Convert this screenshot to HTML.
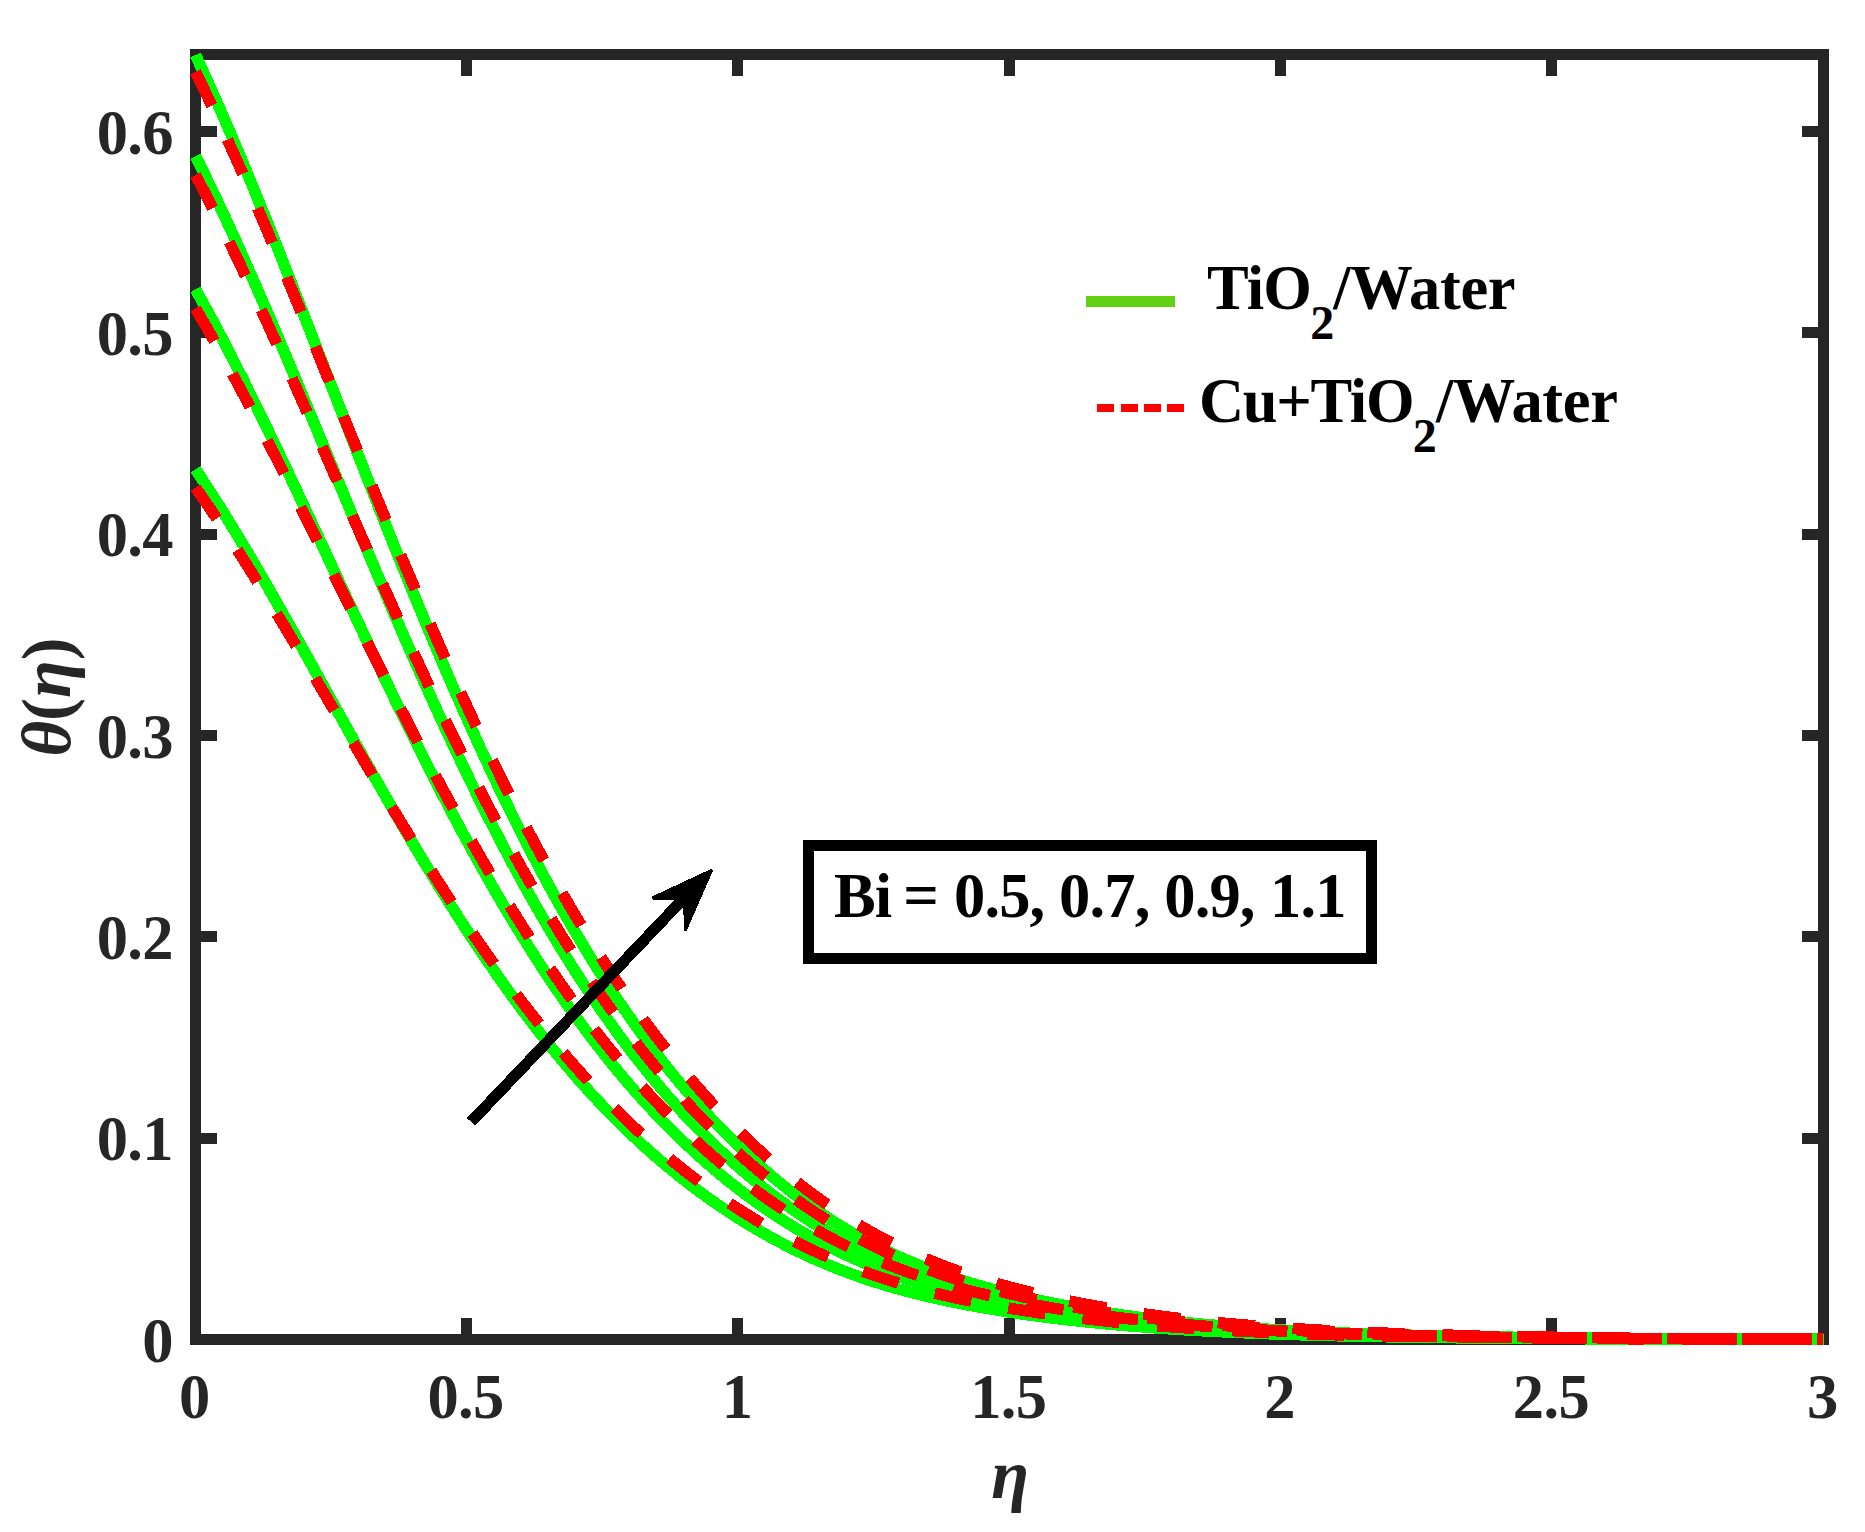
<!DOCTYPE html>
<html lang="en"><head><meta charset="utf-8"><title>Temperature profile</title>
<style>
html,body{margin:0;padding:0;background:#fff;}
svg{display:block}
text{font-family:"Liberation Serif",serif;font-weight:bold;}
.tk{font-size:62.5px;fill:#262626;letter-spacing:-0.6px;}
.lg{font-size:62.5px;fill:#000;letter-spacing:-0.85px;}
.lb{font-size:68.75px;fill:#262626;}
</style></head><body>
<svg width="1865" height="1532" viewBox="0 0 1865 1532">
<rect width="1865" height="1532" fill="#fff"/>
<defs><clipPath id="cp"><rect x="190" y="49" width="1634" height="1296"/></clipPath></defs>

<g fill="#262626">
<rect x="190" y="49" width="1639" height="11"/>
<rect x="190" y="1334" width="1639" height="11"/>
<rect x="190" y="49" width="11" height="1296"/>
<rect x="1818" y="49" width="11" height="1296"/>
<rect x="461" y="60" width="11" height="16"/>
<rect x="461" y="1318" width="11" height="16"/>
<rect x="732" y="60" width="11" height="16"/>
<rect x="732" y="1318" width="11" height="16"/>
<rect x="1004" y="60" width="11" height="16"/>
<rect x="1004" y="1318" width="11" height="16"/>
<rect x="1275" y="60" width="11" height="16"/>
<rect x="1275" y="1318" width="11" height="16"/>
<rect x="1546" y="60" width="11" height="16"/>
<rect x="1546" y="1318" width="11" height="16"/>
<rect x="201" y="1133" width="16" height="11"/>
<rect x="1802" y="1133" width="16" height="11"/>
<rect x="201" y="931" width="16" height="11"/>
<rect x="1802" y="931" width="16" height="11"/>
<rect x="201" y="730" width="16" height="11"/>
<rect x="1802" y="730" width="16" height="11"/>
<rect x="201" y="529" width="16" height="11"/>
<rect x="1802" y="529" width="16" height="11"/>
<rect x="201" y="327" width="16" height="11"/>
<rect x="1802" y="327" width="16" height="11"/>
<rect x="201" y="126" width="16" height="11"/>
<rect x="1802" y="126" width="16" height="11"/>
</g>
<g clip-path="url(#cp)" fill="none" stroke-width="11.5" shape-rendering="crispEdges">
<path d="M195.50,55.01 L198.21,60.82 L200.93,66.68 L203.64,72.59 L206.35,78.54 L209.07,84.53 L211.78,90.57 L214.49,96.66 L217.21,102.78 L219.92,108.95 L222.63,115.16 L225.35,121.41 L228.06,127.70 L230.77,134.03 L233.49,140.39 L236.20,146.79 L238.91,153.22 L241.63,159.69 L244.34,166.19 L247.05,172.72 L249.77,179.28 L252.48,185.87 L255.19,192.49 L257.91,199.14 L260.62,205.81 L263.33,212.51 L266.05,219.23 L268.76,225.98 L271.47,232.75 L274.19,239.54 L276.90,246.35 L279.61,253.18 L282.33,260.03 L285.04,266.89 L287.75,273.78 L290.47,280.67 L293.18,287.58 L295.89,294.51 L298.61,301.44 L301.32,308.39 L304.03,315.35 L306.75,322.31 L309.46,329.28 L312.17,336.26 L314.89,343.25 L317.60,350.24 L320.31,357.24 L323.03,364.24 L325.74,371.24 L328.45,378.24 L331.17,385.24 L333.88,392.24 L336.59,399.24 L339.31,406.24 L342.02,413.24 L344.73,420.23 L347.45,427.21 L350.16,434.19 L352.87,441.17 L355.59,448.13 L358.30,455.09 L361.01,462.04 L363.73,468.97 L366.44,475.90 L369.15,482.81 L371.87,489.72 L374.58,496.61 L377.29,503.48 L380.01,510.34 L382.72,517.19 L385.43,524.01 L388.15,530.83 L390.86,537.62 L393.57,544.40 L396.29,551.16 L399.00,557.89 L401.71,564.61 L404.43,571.31 L407.14,577.98 L409.85,584.64 L412.57,591.27 L415.28,597.87 L417.99,604.46 L420.71,611.02 L423.42,617.55 L426.13,624.06 L428.85,630.54 L431.56,637.00 L434.27,643.43 L436.99,649.83 L439.70,656.21 L442.41,662.55 L445.13,668.87 L447.84,675.16 L450.55,681.41 L453.27,687.64 L455.98,693.84 L458.69,700.01 L461.41,706.14 L464.12,712.25 L466.83,718.32 L469.55,724.36 L472.26,730.37 L474.97,736.34 L477.69,742.28 L480.40,748.19 L483.11,754.06 L485.83,759.90 L488.54,765.71 L491.25,771.48 L493.97,777.21 L496.68,782.91 L499.39,788.58 L502.11,794.21 L504.82,799.80 L507.53,805.36 L510.25,810.89 L512.96,816.37 L515.67,821.82 L518.39,827.23 L521.10,832.61 L523.81,837.95 L526.53,843.25 L529.24,848.52 L531.95,853.75 L534.67,858.94 L537.38,864.10 L540.09,869.21 L542.81,874.29 L545.52,879.33 L548.23,884.34 L550.95,889.31 L553.66,894.23 L556.37,899.13 L559.09,903.98 L561.80,908.80 L564.51,913.58 L567.23,918.32 L569.94,923.02 L572.65,927.69 L575.37,932.31 L578.08,936.90 L580.79,941.46 L583.51,945.97 L586.22,950.45 L588.93,954.89 L591.65,959.30 L594.36,963.66 L597.07,967.99 L599.79,972.29 L602.50,976.54 L605.21,980.76 L607.93,984.94 L610.64,989.09 L613.35,993.20 L616.07,997.27 L618.78,1001.31 L621.49,1005.31 L624.21,1009.27 L626.92,1013.20 L629.63,1017.09 L632.35,1020.95 L635.06,1024.77 L637.77,1028.56 L640.49,1032.32 L643.20,1036.03 L645.91,1039.72 L648.63,1043.37 L651.34,1046.98 L654.05,1050.56 L656.77,1054.11 L659.48,1057.62 L662.19,1061.10 L664.91,1064.55 L667.62,1067.96 L670.33,1071.34 L673.05,1074.69 L675.76,1078.01 L678.47,1081.29 L681.19,1084.54 L683.90,1087.76 L686.61,1090.95 L689.33,1094.11 L692.04,1097.23 L694.75,1100.33 L697.47,1103.39 L700.18,1106.43 L702.89,1109.43 L705.61,1112.40 L708.32,1115.35 L711.03,1118.26 L713.75,1121.14 L716.46,1124.00 L719.17,1126.83 L721.89,1129.62 L724.60,1132.39 L727.31,1135.13 L730.03,1137.84 L732.74,1140.53 L735.45,1143.18 L738.17,1145.81 L740.88,1148.41 L743.59,1150.98 L746.31,1153.53 L749.02,1156.04 L751.73,1158.53 L754.45,1161.00 L757.16,1163.43 L759.87,1165.85 L762.59,1168.23 L765.30,1170.59 L768.01,1172.92 L770.73,1175.22 L773.44,1177.50 L776.15,1179.76 L778.87,1181.99 L781.58,1184.19 L784.29,1186.37 L787.01,1188.52 L789.72,1190.64 L792.43,1192.75 L795.15,1194.82 L797.86,1196.87 L800.57,1198.90 L803.29,1200.90 L806.00,1202.88 L808.71,1204.83 L811.43,1206.76 L814.14,1208.66 L816.85,1210.54 L819.57,1212.40 L822.28,1214.23 L824.99,1216.04 L827.71,1217.82 L830.42,1219.58 L833.13,1221.32 L835.85,1223.03 L838.56,1224.72 L841.27,1226.39 L843.99,1228.03 L846.70,1229.65 L849.41,1231.25 L852.13,1232.83 L854.84,1234.38 L857.55,1235.91 L860.27,1237.42 L862.98,1238.91 L865.69,1240.37 L868.41,1241.82 L871.12,1243.24 L873.83,1244.64 L876.55,1246.03 L879.26,1247.39 L881.97,1248.73 L884.69,1250.05 L887.40,1251.35 L890.11,1252.63 L892.83,1253.89 L895.54,1255.13 L898.25,1256.36 L900.97,1257.56 L903.68,1258.75 L906.39,1259.92 L909.11,1261.07 L911.82,1262.20 L914.53,1263.32 L917.25,1264.42 L919.96,1265.50 L922.67,1266.57 L925.39,1267.62 L928.10,1268.65 L930.81,1269.67 L933.53,1270.67 L936.24,1271.66 L938.95,1272.64 L941.67,1273.59 L944.38,1274.54 L947.09,1275.47 L949.81,1276.39 L952.52,1277.29 L955.23,1278.18 L957.95,1279.06 L960.66,1279.92 L963.37,1280.78 L966.09,1281.62 L968.80,1282.45 L971.51,1283.26 L974.23,1284.07 L976.94,1284.86 L979.65,1285.64 L982.37,1286.42 L985.08,1287.18 L987.79,1287.93 L990.51,1288.67 L993.22,1289.40 L995.93,1290.12 L998.65,1290.83 L1001.36,1291.54 L1004.07,1292.23 L1006.79,1292.91 L1009.50,1293.59 L1012.21,1294.25 L1014.93,1294.91 L1017.64,1295.55 L1020.35,1296.19 L1023.07,1296.83 L1025.78,1297.45 L1028.49,1298.06 L1031.21,1298.67 L1033.92,1299.27 L1036.63,1299.86 L1039.35,1300.44 L1042.06,1301.02 L1044.77,1301.59 L1047.49,1302.15 L1050.20,1302.70 L1052.91,1303.25 L1055.63,1303.79 L1058.34,1304.32 L1061.05,1304.85 L1063.77,1305.36 L1066.48,1305.88 L1069.19,1306.38 L1071.91,1306.88 L1074.62,1307.37 L1077.33,1307.86 L1080.05,1308.34 L1082.76,1308.81 L1085.47,1309.27 L1088.19,1309.73 L1090.90,1310.19 L1093.61,1310.63 L1096.33,1311.08 L1099.04,1311.51 L1101.75,1311.94 L1104.47,1312.36 L1107.18,1312.78 L1109.89,1313.19 L1112.61,1313.60 L1115.32,1314.00 L1118.03,1314.39 L1120.75,1314.78 L1123.46,1315.17 L1126.17,1315.55 L1128.89,1315.92 L1131.60,1316.29 L1134.31,1316.65 L1137.03,1317.01 L1139.74,1317.36 L1142.45,1317.71 L1145.17,1318.05 L1147.88,1318.39 L1150.59,1318.72 L1153.31,1319.05 L1156.02,1319.37 L1158.73,1319.69 L1161.45,1320.00 L1164.16,1320.31 L1166.87,1320.61 L1169.59,1320.91 L1172.30,1321.21 L1175.01,1321.50 L1177.73,1321.78 L1180.44,1322.07 L1183.15,1322.34 L1185.87,1322.62 L1188.58,1322.89 L1191.29,1323.15 L1194.01,1323.41 L1196.72,1323.67 L1199.43,1323.92 L1202.15,1324.17 L1204.86,1324.42 L1207.57,1324.66 L1210.29,1324.90 L1213.00,1325.14 L1215.71,1325.37 L1218.43,1325.60 L1221.14,1325.82 L1223.85,1326.04 L1226.57,1326.26 L1229.28,1326.47 L1231.99,1326.68 L1234.71,1326.89 L1237.42,1327.09 L1240.13,1327.30 L1242.85,1327.49 L1245.56,1327.69 L1248.27,1327.88 L1250.99,1328.07 L1253.70,1328.26 L1256.41,1328.44 L1259.13,1328.62 L1261.84,1328.80 L1264.55,1328.97 L1267.27,1329.14 L1269.98,1329.31 L1272.69,1329.48 L1275.41,1329.64 L1278.12,1329.80 L1280.83,1329.96 L1283.55,1330.12 L1286.26,1330.27 L1288.97,1330.42 L1291.69,1330.57 L1294.40,1330.72 L1297.11,1330.86 L1299.83,1331.01 L1302.54,1331.15 L1305.25,1331.28 L1307.97,1331.42 L1310.68,1331.55 L1313.39,1331.68 L1316.11,1331.81 L1318.82,1331.94 L1321.53,1332.07 L1324.25,1332.19 L1326.96,1332.31 L1329.67,1332.43 L1332.39,1332.55 L1335.10,1332.66 L1337.81,1332.77 L1340.53,1332.89 L1343.24,1333.00 L1345.95,1333.10 L1348.67,1333.21 L1351.38,1333.31 L1354.09,1333.42 L1356.81,1333.52 L1359.52,1333.62 L1362.23,1333.72 L1364.95,1333.81 L1367.66,1333.91 L1370.37,1334.00 L1373.09,1334.09 L1375.80,1334.18 L1378.51,1334.27 L1381.23,1334.36 L1383.94,1334.45 L1386.65,1334.53 L1389.37,1334.61 L1392.08,1334.70 L1394.79,1334.78 L1397.51,1334.86 L1400.22,1334.93 L1402.93,1335.01 L1405.65,1335.09 L1408.36,1335.16 L1411.07,1335.23 L1413.79,1335.31 L1416.50,1335.38 L1419.21,1335.45 L1421.93,1335.51 L1424.64,1335.58 L1427.35,1335.65 L1430.07,1335.71 L1432.78,1335.78 L1435.49,1335.84 L1438.21,1335.90 L1440.92,1335.96 L1443.63,1336.02 L1446.35,1336.08 L1449.06,1336.14 L1451.77,1336.20 L1454.49,1336.25 L1457.20,1336.31 L1459.91,1336.36 L1462.63,1336.42 L1465.34,1336.47 L1468.05,1336.52 L1470.77,1336.57 L1473.48,1336.62 L1476.19,1336.67 L1478.91,1336.72 L1481.62,1336.76 L1484.33,1336.81 L1487.05,1336.86 L1489.76,1336.90 L1492.47,1336.95 L1495.19,1336.99 L1497.90,1337.03 L1500.61,1337.08 L1503.33,1337.12 L1506.04,1337.16 L1508.75,1337.20 L1511.47,1337.24 L1514.18,1337.28 L1516.89,1337.31 L1519.61,1337.35 L1522.32,1337.39 L1525.03,1337.42 L1527.75,1337.46 L1530.46,1337.50 L1533.17,1337.53 L1535.89,1337.56 L1538.60,1337.60 L1541.31,1337.63 L1544.03,1337.66 L1546.74,1337.69 L1549.45,1337.72 L1552.17,1337.76 L1554.88,1337.79 L1557.59,1337.82 L1560.31,1337.84 L1563.02,1337.87 L1565.73,1337.90 L1568.45,1337.93 L1571.16,1337.96 L1573.87,1337.98 L1576.59,1338.01 L1579.30,1338.03 L1582.01,1338.06 L1584.73,1338.08 L1587.44,1338.11 L1590.15,1338.13 L1592.87,1338.16 L1595.58,1338.18 L1598.29,1338.20 L1601.01,1338.23 L1603.72,1338.25 L1606.43,1338.27 L1609.15,1338.29 L1611.86,1338.31 L1614.57,1338.33 L1617.29,1338.35 L1620.00,1338.37 L1622.71,1338.39 L1625.43,1338.41 L1628.14,1338.43 L1630.85,1338.45 L1633.57,1338.47 L1636.28,1338.49 L1638.99,1338.50 L1641.71,1338.52 L1644.42,1338.54 L1647.13,1338.56 L1649.85,1338.57 L1652.56,1338.59 L1655.27,1338.60 L1657.99,1338.62 L1660.70,1338.63 L1663.41,1338.65 L1666.13,1338.66 L1668.84,1338.68 L1671.55,1338.69 L1674.27,1338.71 L1676.98,1338.72 L1679.69,1338.74 L1682.41,1338.75 L1685.12,1338.76 L1687.83,1338.78 L1690.55,1338.79 L1693.26,1338.80 L1695.97,1338.81 L1698.69,1338.82 L1701.40,1338.84 L1704.11,1338.85 L1706.83,1338.86 L1709.54,1338.87 L1712.25,1338.88 L1714.97,1338.89 L1717.68,1338.90 L1720.39,1338.91 L1723.11,1338.92 L1725.82,1338.93 L1728.53,1338.94 L1731.25,1338.95 L1733.96,1338.96 L1736.67,1338.97 L1739.39,1338.98 L1742.10,1338.99 L1744.81,1339.00 L1747.53,1339.01 L1750.24,1339.02 L1752.95,1339.03 L1755.67,1339.04 L1758.38,1339.04 L1761.09,1339.05 L1763.81,1339.06 L1766.52,1339.07 L1769.23,1339.08 L1771.95,1339.08 L1774.66,1339.09 L1777.37,1339.10 L1780.09,1339.10 L1782.80,1339.11 L1785.51,1339.12 L1788.23,1339.13 L1790.94,1339.13 L1793.65,1339.14 L1796.37,1339.14 L1799.08,1339.15 L1801.79,1339.16 L1804.51,1339.16 L1807.22,1339.17 L1809.93,1339.18 L1812.65,1339.18 L1815.36,1339.19 L1818.07,1339.19 L1820.79,1339.20 L1823.50,1339.20" stroke="#00ff00"/>
<path d="M195.50,156.08 L198.21,161.50 L200.93,166.96 L203.64,172.47 L206.35,178.02 L209.07,183.61 L211.78,189.25 L214.49,194.92 L217.21,200.64 L219.92,206.39 L222.63,212.19 L225.35,218.02 L228.06,223.89 L230.77,229.79 L233.49,235.73 L236.20,241.70 L238.91,247.70 L241.63,253.74 L244.34,259.80 L247.05,265.90 L249.77,272.02 L252.48,278.18 L255.19,284.35 L257.91,290.56 L260.62,296.79 L263.33,303.04 L266.05,309.32 L268.76,315.61 L271.47,321.93 L274.19,328.27 L276.90,334.63 L279.61,341.00 L282.33,347.39 L285.04,353.80 L287.75,360.22 L290.47,366.66 L293.18,373.11 L295.89,379.57 L298.61,386.04 L301.32,392.52 L304.03,399.01 L306.75,405.51 L309.46,412.01 L312.17,418.52 L314.89,425.04 L317.60,431.56 L320.31,438.08 L323.03,444.61 L325.74,451.14 L328.45,457.67 L331.17,464.20 L333.88,470.73 L336.59,477.25 L339.31,483.77 L342.02,490.29 L344.73,496.81 L347.45,503.32 L350.16,509.82 L352.87,516.32 L355.59,522.81 L358.30,529.29 L361.01,535.76 L363.73,542.22 L366.44,548.67 L369.15,555.11 L371.87,561.53 L374.58,567.94 L377.29,574.34 L380.01,580.73 L382.72,587.10 L385.43,593.45 L388.15,599.79 L390.86,606.11 L393.57,612.41 L396.29,618.70 L399.00,624.96 L401.71,631.21 L404.43,637.43 L407.14,643.64 L409.85,649.82 L412.57,655.98 L415.28,662.12 L417.99,668.24 L420.71,674.33 L423.42,680.40 L426.13,686.45 L428.85,692.46 L431.56,698.46 L434.27,704.43 L436.99,710.37 L439.70,716.28 L442.41,722.17 L445.13,728.03 L447.84,733.86 L450.55,739.67 L453.27,745.44 L455.98,751.19 L458.69,756.90 L461.41,762.59 L464.12,768.24 L466.83,773.87 L469.55,779.46 L472.26,785.03 L474.97,790.56 L477.69,796.06 L480.40,801.53 L483.11,806.96 L485.83,812.37 L488.54,817.74 L491.25,823.08 L493.97,828.38 L496.68,833.65 L499.39,838.89 L502.11,844.10 L504.82,849.27 L507.53,854.40 L510.25,859.51 L512.96,864.57 L515.67,869.61 L518.39,874.61 L521.10,879.57 L523.81,884.50 L526.53,889.39 L529.24,894.25 L531.95,899.07 L534.67,903.86 L537.38,908.62 L540.09,913.33 L542.81,918.02 L545.52,922.66 L548.23,927.28 L550.95,931.85 L553.66,936.39 L556.37,940.90 L559.09,945.37 L561.80,949.80 L564.51,954.20 L567.23,958.56 L569.94,962.89 L572.65,967.18 L575.37,971.44 L578.08,975.66 L580.79,979.85 L583.51,984.00 L586.22,988.11 L588.93,992.19 L591.65,996.24 L594.36,1000.25 L597.07,1004.22 L599.79,1008.17 L602.50,1012.07 L605.21,1015.94 L607.93,1019.78 L610.64,1023.58 L613.35,1027.35 L616.07,1031.09 L618.78,1034.79 L621.49,1038.46 L624.21,1042.09 L626.92,1045.69 L629.63,1049.26 L632.35,1052.79 L635.06,1056.29 L637.77,1059.76 L640.49,1063.20 L643.20,1066.60 L645.91,1069.97 L648.63,1073.31 L651.34,1076.62 L654.05,1079.89 L656.77,1083.13 L659.48,1086.35 L662.19,1089.53 L664.91,1092.68 L667.62,1095.80 L670.33,1098.89 L673.05,1101.94 L675.76,1104.97 L678.47,1107.97 L681.19,1110.94 L683.90,1113.88 L686.61,1116.79 L689.33,1119.67 L692.04,1122.52 L694.75,1125.34 L697.47,1128.14 L700.18,1130.90 L702.89,1133.64 L705.61,1136.35 L708.32,1139.03 L711.03,1141.69 L713.75,1144.31 L716.46,1146.91 L719.17,1149.49 L721.89,1152.03 L724.60,1154.55 L727.31,1157.05 L730.03,1159.51 L732.74,1161.95 L735.45,1164.37 L738.17,1166.75 L740.88,1169.12 L743.59,1171.45 L746.31,1173.77 L749.02,1176.05 L751.73,1178.31 L754.45,1180.55 L757.16,1182.76 L759.87,1184.95 L762.59,1187.11 L765.30,1189.25 L768.01,1191.36 L770.73,1193.45 L773.44,1195.51 L776.15,1197.55 L778.87,1199.57 L781.58,1201.56 L784.29,1203.53 L787.01,1205.47 L789.72,1207.40 L792.43,1209.29 L795.15,1211.17 L797.86,1213.02 L800.57,1214.85 L803.29,1216.65 L806.00,1218.43 L808.71,1220.19 L811.43,1221.93 L814.14,1223.64 L816.85,1225.33 L819.57,1227.00 L822.28,1228.65 L824.99,1230.27 L827.71,1231.87 L830.42,1233.45 L833.13,1235.01 L835.85,1236.55 L838.56,1238.06 L841.27,1239.56 L843.99,1241.03 L846.70,1242.48 L849.41,1243.91 L852.13,1245.32 L854.84,1246.71 L857.55,1248.08 L860.27,1249.42 L862.98,1250.75 L865.69,1252.06 L868.41,1253.35 L871.12,1254.62 L873.83,1255.87 L876.55,1257.10 L879.26,1258.31 L881.97,1259.51 L884.69,1260.68 L887.40,1261.84 L890.11,1262.98 L892.83,1264.10 L895.54,1265.21 L898.25,1266.30 L900.97,1267.37 L903.68,1268.42 L906.39,1269.46 L909.11,1270.48 L911.82,1271.49 L914.53,1272.48 L917.25,1273.46 L919.96,1274.42 L922.67,1275.37 L925.39,1276.30 L928.10,1277.22 L930.81,1278.12 L933.53,1279.01 L936.24,1279.89 L938.95,1280.75 L941.67,1281.60 L944.38,1282.44 L947.09,1283.27 L949.81,1284.08 L952.52,1284.89 L955.23,1285.68 L957.95,1286.46 L960.66,1287.22 L963.37,1287.98 L966.09,1288.73 L968.80,1289.46 L971.51,1290.19 L974.23,1290.91 L976.94,1291.61 L979.65,1292.31 L982.37,1292.99 L985.08,1293.67 L987.79,1294.34 L990.51,1295.00 L993.22,1295.65 L995.93,1296.29 L998.65,1296.92 L1001.36,1297.54 L1004.07,1298.16 L1006.79,1298.77 L1009.50,1299.37 L1012.21,1299.96 L1014.93,1300.54 L1017.64,1301.12 L1020.35,1301.69 L1023.07,1302.25 L1025.78,1302.80 L1028.49,1303.35 L1031.21,1303.89 L1033.92,1304.42 L1036.63,1304.94 L1039.35,1305.46 L1042.06,1305.97 L1044.77,1306.48 L1047.49,1306.98 L1050.20,1307.47 L1052.91,1307.95 L1055.63,1308.43 L1058.34,1308.90 L1061.05,1309.37 L1063.77,1309.83 L1066.48,1310.28 L1069.19,1310.73 L1071.91,1311.17 L1074.62,1311.60 L1077.33,1312.03 L1080.05,1312.46 L1082.76,1312.87 L1085.47,1313.29 L1088.19,1313.69 L1090.90,1314.09 L1093.61,1314.49 L1096.33,1314.88 L1099.04,1315.26 L1101.75,1315.64 L1104.47,1316.01 L1107.18,1316.38 L1109.89,1316.74 L1112.61,1317.10 L1115.32,1317.45 L1118.03,1317.80 L1120.75,1318.14 L1123.46,1318.48 L1126.17,1318.81 L1128.89,1319.14 L1131.60,1319.47 L1134.31,1319.78 L1137.03,1320.10 L1139.74,1320.41 L1142.45,1320.71 L1145.17,1321.01 L1147.88,1321.31 L1150.59,1321.60 L1153.31,1321.88 L1156.02,1322.17 L1158.73,1322.44 L1161.45,1322.72 L1164.16,1322.99 L1166.87,1323.25 L1169.59,1323.52 L1172.30,1323.77 L1175.01,1324.03 L1177.73,1324.28 L1180.44,1324.52 L1183.15,1324.77 L1185.87,1325.01 L1188.58,1325.24 L1191.29,1325.47 L1194.01,1325.70 L1196.72,1325.92 L1199.43,1326.15 L1202.15,1326.36 L1204.86,1326.58 L1207.57,1326.79 L1210.29,1327.00 L1213.00,1327.20 L1215.71,1327.40 L1218.43,1327.60 L1221.14,1327.79 L1223.85,1327.99 L1226.57,1328.18 L1229.28,1328.36 L1231.99,1328.54 L1234.71,1328.72 L1237.42,1328.90 L1240.13,1329.08 L1242.85,1329.25 L1245.56,1329.42 L1248.27,1329.58 L1250.99,1329.75 L1253.70,1329.91 L1256.41,1330.07 L1259.13,1330.22 L1261.84,1330.38 L1264.55,1330.53 L1267.27,1330.68 L1269.98,1330.82 L1272.69,1330.97 L1275.41,1331.11 L1278.12,1331.25 L1280.83,1331.38 L1283.55,1331.52 L1286.26,1331.65 L1288.97,1331.78 L1291.69,1331.91 L1294.40,1332.04 L1297.11,1332.16 L1299.83,1332.29 L1302.54,1332.41 L1305.25,1332.52 L1307.97,1332.64 L1310.68,1332.76 L1313.39,1332.87 L1316.11,1332.98 L1318.82,1333.09 L1321.53,1333.20 L1324.25,1333.30 L1326.96,1333.41 L1329.67,1333.51 L1332.39,1333.61 L1335.10,1333.71 L1337.81,1333.81 L1340.53,1333.90 L1343.24,1334.00 L1345.95,1334.09 L1348.67,1334.18 L1351.38,1334.27 L1354.09,1334.36 L1356.81,1334.45 L1359.52,1334.53 L1362.23,1334.62 L1364.95,1334.70 L1367.66,1334.78 L1370.37,1334.86 L1373.09,1334.94 L1375.80,1335.02 L1378.51,1335.09 L1381.23,1335.17 L1383.94,1335.24 L1386.65,1335.31 L1389.37,1335.38 L1392.08,1335.45 L1394.79,1335.52 L1397.51,1335.59 L1400.22,1335.66 L1402.93,1335.72 L1405.65,1335.79 L1408.36,1335.85 L1411.07,1335.91 L1413.79,1335.97 L1416.50,1336.03 L1419.21,1336.09 L1421.93,1336.15 L1424.64,1336.21 L1427.35,1336.27 L1430.07,1336.32 L1432.78,1336.38 L1435.49,1336.43 L1438.21,1336.48 L1440.92,1336.53 L1443.63,1336.59 L1446.35,1336.64 L1449.06,1336.68 L1451.77,1336.73 L1454.49,1336.78 L1457.20,1336.83 L1459.91,1336.87 L1462.63,1336.92 L1465.34,1336.96 L1468.05,1337.01 L1470.77,1337.05 L1473.48,1337.09 L1476.19,1337.13 L1478.91,1337.17 L1481.62,1337.22 L1484.33,1337.25 L1487.05,1337.29 L1489.76,1337.33 L1492.47,1337.37 L1495.19,1337.41 L1497.90,1337.44 L1500.61,1337.48 L1503.33,1337.51 L1506.04,1337.55 L1508.75,1337.58 L1511.47,1337.62 L1514.18,1337.65 L1516.89,1337.68 L1519.61,1337.71 L1522.32,1337.74 L1525.03,1337.77 L1527.75,1337.80 L1530.46,1337.83 L1533.17,1337.86 L1535.89,1337.89 L1538.60,1337.92 L1541.31,1337.95 L1544.03,1337.97 L1546.74,1338.00 L1549.45,1338.03 L1552.17,1338.05 L1554.88,1338.08 L1557.59,1338.10 L1560.31,1338.13 L1563.02,1338.15 L1565.73,1338.17 L1568.45,1338.20 L1571.16,1338.22 L1573.87,1338.24 L1576.59,1338.27 L1579.30,1338.29 L1582.01,1338.31 L1584.73,1338.33 L1587.44,1338.35 L1590.15,1338.37 L1592.87,1338.39 L1595.58,1338.41 L1598.29,1338.43 L1601.01,1338.45 L1603.72,1338.47 L1606.43,1338.48 L1609.15,1338.50 L1611.86,1338.52 L1614.57,1338.54 L1617.29,1338.55 L1620.00,1338.57 L1622.71,1338.59 L1625.43,1338.60 L1628.14,1338.62 L1630.85,1338.63 L1633.57,1338.65 L1636.28,1338.67 L1638.99,1338.68 L1641.71,1338.69 L1644.42,1338.71 L1647.13,1338.72 L1649.85,1338.74 L1652.56,1338.75 L1655.27,1338.76 L1657.99,1338.78 L1660.70,1338.79 L1663.41,1338.80 L1666.13,1338.81 L1668.84,1338.83 L1671.55,1338.84 L1674.27,1338.85 L1676.98,1338.86 L1679.69,1338.87 L1682.41,1338.88 L1685.12,1338.90 L1687.83,1338.91 L1690.55,1338.92 L1693.26,1338.93 L1695.97,1338.94 L1698.69,1338.95 L1701.40,1338.96 L1704.11,1338.97 L1706.83,1338.98 L1709.54,1338.99 L1712.25,1338.99 L1714.97,1339.00 L1717.68,1339.01 L1720.39,1339.02 L1723.11,1339.03 L1725.82,1339.04 L1728.53,1339.05 L1731.25,1339.05 L1733.96,1339.06 L1736.67,1339.07 L1739.39,1339.08 L1742.10,1339.09 L1744.81,1339.09 L1747.53,1339.10 L1750.24,1339.11 L1752.95,1339.11 L1755.67,1339.12 L1758.38,1339.13 L1761.09,1339.14 L1763.81,1339.14 L1766.52,1339.15 L1769.23,1339.15 L1771.95,1339.16 L1774.66,1339.17 L1777.37,1339.17 L1780.09,1339.18 L1782.80,1339.18 L1785.51,1339.19 L1788.23,1339.20 L1790.94,1339.20 L1793.65,1339.21 L1796.37,1339.21 L1799.08,1339.22 L1801.79,1339.22 L1804.51,1339.23 L1807.22,1339.23 L1809.93,1339.24 L1812.65,1339.24 L1815.36,1339.25 L1818.07,1339.25 L1820.79,1339.26 L1823.50,1339.26" stroke="#00ff00"/>
<path d="M195.50,289.36 L198.21,294.20 L200.93,299.07 L203.64,303.99 L206.35,308.95 L209.07,313.94 L211.78,318.97 L214.49,324.04 L217.21,329.15 L219.92,334.29 L222.63,339.46 L225.35,344.67 L228.06,349.91 L230.77,355.18 L233.49,360.48 L236.20,365.82 L238.91,371.18 L241.63,376.57 L244.34,381.99 L247.05,387.43 L249.77,392.90 L252.48,398.40 L255.19,403.92 L257.91,409.46 L260.62,415.02 L263.33,420.61 L266.05,426.22 L268.76,431.84 L271.47,437.48 L274.19,443.15 L276.90,448.82 L279.61,454.52 L282.33,460.22 L285.04,465.95 L287.75,471.68 L290.47,477.43 L293.18,483.19 L295.89,488.96 L298.61,494.74 L301.32,500.53 L304.03,506.32 L306.75,512.12 L309.46,517.93 L312.17,523.75 L314.89,529.57 L317.60,535.39 L320.31,541.21 L323.03,547.04 L325.74,552.87 L328.45,558.70 L331.17,564.53 L333.88,570.35 L336.59,576.18 L339.31,582.00 L342.02,587.82 L344.73,593.63 L347.45,599.44 L350.16,605.25 L352.87,611.04 L355.59,616.83 L358.30,622.62 L361.01,628.39 L363.73,634.15 L366.44,639.91 L369.15,645.65 L371.87,651.38 L374.58,657.10 L377.29,662.81 L380.01,668.51 L382.72,674.19 L385.43,679.85 L388.15,685.50 L390.86,691.14 L393.57,696.76 L396.29,702.36 L399.00,707.95 L401.71,713.52 L404.43,719.07 L407.14,724.60 L409.85,730.11 L412.57,735.60 L415.28,741.07 L417.99,746.52 L420.71,751.95 L423.42,757.35 L426.13,762.74 L428.85,768.10 L431.56,773.44 L434.27,778.75 L436.99,784.05 L439.70,789.31 L442.41,794.56 L445.13,799.77 L447.84,804.97 L450.55,810.13 L453.27,815.27 L455.98,820.39 L458.69,825.47 L461.41,830.53 L464.12,835.57 L466.83,840.57 L469.55,845.55 L472.26,850.50 L474.97,855.42 L477.69,860.31 L480.40,865.18 L483.11,870.01 L485.83,874.82 L488.54,879.59 L491.25,884.34 L493.97,889.06 L496.68,893.74 L499.39,898.40 L502.11,903.02 L504.82,907.62 L507.53,912.18 L510.25,916.72 L512.96,921.22 L515.67,925.69 L518.39,930.13 L521.10,934.54 L523.81,938.92 L526.53,943.26 L529.24,947.58 L531.95,951.86 L534.67,956.11 L537.38,960.33 L540.09,964.52 L542.81,968.67 L545.52,972.80 L548.23,976.89 L550.95,980.95 L553.66,984.98 L556.37,988.98 L559.09,992.94 L561.80,996.87 L564.51,1000.77 L567.23,1004.64 L569.94,1008.48 L572.65,1012.28 L575.37,1016.06 L578.08,1019.80 L580.79,1023.51 L583.51,1027.19 L586.22,1030.84 L588.93,1034.45 L591.65,1038.04 L594.36,1041.59 L597.07,1045.11 L599.79,1048.60 L602.50,1052.06 L605.21,1055.49 L607.93,1058.89 L610.64,1062.25 L613.35,1065.59 L616.07,1068.90 L618.78,1072.17 L621.49,1075.42 L624.21,1078.63 L626.92,1081.82 L629.63,1084.97 L632.35,1088.10 L635.06,1091.20 L637.77,1094.27 L640.49,1097.30 L643.20,1100.31 L645.91,1103.29 L648.63,1106.25 L651.34,1109.17 L654.05,1112.06 L656.77,1114.93 L659.48,1117.77 L662.19,1120.58 L664.91,1123.37 L667.62,1126.12 L670.33,1128.85 L673.05,1131.55 L675.76,1134.23 L678.47,1136.88 L681.19,1139.50 L683.90,1142.09 L686.61,1144.66 L689.33,1147.21 L692.04,1149.72 L694.75,1152.21 L697.47,1154.68 L700.18,1157.12 L702.89,1159.54 L705.61,1161.93 L708.32,1164.30 L711.03,1166.64 L713.75,1168.95 L716.46,1171.25 L719.17,1173.52 L721.89,1175.76 L724.60,1177.98 L727.31,1180.18 L730.03,1182.35 L732.74,1184.51 L735.45,1186.63 L738.17,1188.74 L740.88,1190.82 L743.59,1192.88 L746.31,1194.91 L749.02,1196.93 L751.73,1198.92 L754.45,1200.89 L757.16,1202.83 L759.87,1204.76 L762.59,1206.66 L765.30,1208.54 L768.01,1210.40 L770.73,1212.24 L773.44,1214.05 L776.15,1215.85 L778.87,1217.62 L781.58,1219.37 L784.29,1221.10 L787.01,1222.81 L789.72,1224.49 L792.43,1226.16 L795.15,1227.81 L797.86,1229.43 L800.57,1231.04 L803.29,1232.62 L806.00,1234.18 L808.71,1235.73 L811.43,1237.25 L814.14,1238.75 L816.85,1240.23 L819.57,1241.69 L822.28,1243.14 L824.99,1244.56 L827.71,1245.96 L830.42,1247.34 L833.13,1248.71 L835.85,1250.05 L838.56,1251.38 L841.27,1252.68 L843.99,1253.97 L846.70,1255.24 L849.41,1256.49 L852.13,1257.72 L854.84,1258.93 L857.55,1260.13 L860.27,1261.31 L862.98,1262.47 L865.69,1263.61 L868.41,1264.73 L871.12,1265.84 L873.83,1266.93 L876.55,1268.00 L879.26,1269.06 L881.97,1270.10 L884.69,1271.13 L887.40,1272.14 L890.11,1273.13 L892.83,1274.11 L895.54,1275.07 L898.25,1276.02 L900.97,1276.95 L903.68,1277.87 L906.39,1278.78 L909.11,1279.67 L911.82,1280.55 L914.53,1281.41 L917.25,1282.26 L919.96,1283.10 L922.67,1283.92 L925.39,1284.73 L928.10,1285.53 L930.81,1286.32 L933.53,1287.10 L936.24,1287.86 L938.95,1288.61 L941.67,1289.35 L944.38,1290.08 L947.09,1290.80 L949.81,1291.51 L952.52,1292.21 L955.23,1292.90 L957.95,1293.58 L960.66,1294.25 L963.37,1294.91 L966.09,1295.56 L968.80,1296.20 L971.51,1296.83 L974.23,1297.46 L976.94,1298.07 L979.65,1298.68 L982.37,1299.28 L985.08,1299.87 L987.79,1300.45 L990.51,1301.02 L993.22,1301.59 L995.93,1302.15 L998.65,1302.70 L1001.36,1303.24 L1004.07,1303.78 L1006.79,1304.31 L1009.50,1304.83 L1012.21,1305.35 L1014.93,1305.86 L1017.64,1306.36 L1020.35,1306.85 L1023.07,1307.34 L1025.78,1307.82 L1028.49,1308.30 L1031.21,1308.77 L1033.92,1309.23 L1036.63,1309.69 L1039.35,1310.14 L1042.06,1310.59 L1044.77,1311.03 L1047.49,1311.46 L1050.20,1311.89 L1052.91,1312.31 L1055.63,1312.73 L1058.34,1313.14 L1061.05,1313.54 L1063.77,1313.94 L1066.48,1314.34 L1069.19,1314.72 L1071.91,1315.11 L1074.62,1315.49 L1077.33,1315.86 L1080.05,1316.23 L1082.76,1316.59 L1085.47,1316.95 L1088.19,1317.30 L1090.90,1317.65 L1093.61,1317.99 L1096.33,1318.33 L1099.04,1318.66 L1101.75,1318.99 L1104.47,1319.31 L1107.18,1319.63 L1109.89,1319.95 L1112.61,1320.26 L1115.32,1320.56 L1118.03,1320.86 L1120.75,1321.16 L1123.46,1321.45 L1126.17,1321.74 L1128.89,1322.03 L1131.60,1322.31 L1134.31,1322.58 L1137.03,1322.85 L1139.74,1323.12 L1142.45,1323.38 L1145.17,1323.64 L1147.88,1323.90 L1150.59,1324.15 L1153.31,1324.40 L1156.02,1324.64 L1158.73,1324.88 L1161.45,1325.12 L1164.16,1325.35 L1166.87,1325.58 L1169.59,1325.81 L1172.30,1326.03 L1175.01,1326.25 L1177.73,1326.47 L1180.44,1326.68 L1183.15,1326.89 L1185.87,1327.09 L1188.58,1327.30 L1191.29,1327.50 L1194.01,1327.69 L1196.72,1327.89 L1199.43,1328.08 L1202.15,1328.26 L1204.86,1328.45 L1207.57,1328.63 L1210.29,1328.81 L1213.00,1328.99 L1215.71,1329.16 L1218.43,1329.33 L1221.14,1329.50 L1223.85,1329.66 L1226.57,1329.83 L1229.28,1329.99 L1231.99,1330.14 L1234.71,1330.30 L1237.42,1330.45 L1240.13,1330.60 L1242.85,1330.75 L1245.56,1330.89 L1248.27,1331.04 L1250.99,1331.18 L1253.70,1331.32 L1256.41,1331.45 L1259.13,1331.59 L1261.84,1331.72 L1264.55,1331.85 L1267.27,1331.98 L1269.98,1332.10 L1272.69,1332.23 L1275.41,1332.35 L1278.12,1332.47 L1280.83,1332.58 L1283.55,1332.70 L1286.26,1332.81 L1288.97,1332.93 L1291.69,1333.04 L1294.40,1333.15 L1297.11,1333.25 L1299.83,1333.36 L1302.54,1333.46 L1305.25,1333.56 L1307.97,1333.66 L1310.68,1333.76 L1313.39,1333.86 L1316.11,1333.95 L1318.82,1334.05 L1321.53,1334.14 L1324.25,1334.23 L1326.96,1334.32 L1329.67,1334.41 L1332.39,1334.49 L1335.10,1334.58 L1337.81,1334.66 L1340.53,1334.74 L1343.24,1334.82 L1345.95,1334.90 L1348.67,1334.98 L1351.38,1335.06 L1354.09,1335.13 L1356.81,1335.21 L1359.52,1335.28 L1362.23,1335.35 L1364.95,1335.42 L1367.66,1335.49 L1370.37,1335.56 L1373.09,1335.63 L1375.80,1335.70 L1378.51,1335.76 L1381.23,1335.82 L1383.94,1335.89 L1386.65,1335.95 L1389.37,1336.01 L1392.08,1336.07 L1394.79,1336.13 L1397.51,1336.19 L1400.22,1336.24 L1402.93,1336.30 L1405.65,1336.35 L1408.36,1336.41 L1411.07,1336.46 L1413.79,1336.51 L1416.50,1336.57 L1419.21,1336.62 L1421.93,1336.67 L1424.64,1336.72 L1427.35,1336.76 L1430.07,1336.81 L1432.78,1336.86 L1435.49,1336.90 L1438.21,1336.95 L1440.92,1336.99 L1443.63,1337.04 L1446.35,1337.08 L1449.06,1337.12 L1451.77,1337.16 L1454.49,1337.20 L1457.20,1337.24 L1459.91,1337.28 L1462.63,1337.32 L1465.34,1337.36 L1468.05,1337.39 L1470.77,1337.43 L1473.48,1337.47 L1476.19,1337.50 L1478.91,1337.54 L1481.62,1337.57 L1484.33,1337.60 L1487.05,1337.64 L1489.76,1337.67 L1492.47,1337.70 L1495.19,1337.73 L1497.90,1337.76 L1500.61,1337.79 L1503.33,1337.82 L1506.04,1337.85 L1508.75,1337.88 L1511.47,1337.91 L1514.18,1337.94 L1516.89,1337.97 L1519.61,1337.99 L1522.32,1338.02 L1525.03,1338.05 L1527.75,1338.07 L1530.46,1338.10 L1533.17,1338.12 L1535.89,1338.15 L1538.60,1338.17 L1541.31,1338.19 L1544.03,1338.22 L1546.74,1338.24 L1549.45,1338.26 L1552.17,1338.28 L1554.88,1338.30 L1557.59,1338.32 L1560.31,1338.35 L1563.02,1338.37 L1565.73,1338.39 L1568.45,1338.41 L1571.16,1338.42 L1573.87,1338.44 L1576.59,1338.46 L1579.30,1338.48 L1582.01,1338.50 L1584.73,1338.52 L1587.44,1338.53 L1590.15,1338.55 L1592.87,1338.57 L1595.58,1338.58 L1598.29,1338.60 L1601.01,1338.62 L1603.72,1338.63 L1606.43,1338.65 L1609.15,1338.66 L1611.86,1338.68 L1614.57,1338.69 L1617.29,1338.71 L1620.00,1338.72 L1622.71,1338.73 L1625.43,1338.75 L1628.14,1338.76 L1630.85,1338.77 L1633.57,1338.79 L1636.28,1338.80 L1638.99,1338.81 L1641.71,1338.83 L1644.42,1338.84 L1647.13,1338.85 L1649.85,1338.86 L1652.56,1338.87 L1655.27,1338.88 L1657.99,1338.89 L1660.70,1338.91 L1663.41,1338.92 L1666.13,1338.93 L1668.84,1338.94 L1671.55,1338.95 L1674.27,1338.96 L1676.98,1338.97 L1679.69,1338.98 L1682.41,1338.99 L1685.12,1338.99 L1687.83,1339.00 L1690.55,1339.01 L1693.26,1339.02 L1695.97,1339.03 L1698.69,1339.04 L1701.40,1339.05 L1704.11,1339.05 L1706.83,1339.06 L1709.54,1339.07 L1712.25,1339.08 L1714.97,1339.09 L1717.68,1339.09 L1720.39,1339.10 L1723.11,1339.11 L1725.82,1339.11 L1728.53,1339.12 L1731.25,1339.13 L1733.96,1339.14 L1736.67,1339.14 L1739.39,1339.15 L1742.10,1339.15 L1744.81,1339.16 L1747.53,1339.17 L1750.24,1339.17 L1752.95,1339.18 L1755.67,1339.18 L1758.38,1339.19 L1761.09,1339.20 L1763.81,1339.20 L1766.52,1339.21 L1769.23,1339.21 L1771.95,1339.22 L1774.66,1339.22 L1777.37,1339.23 L1780.09,1339.23 L1782.80,1339.24 L1785.51,1339.24 L1788.23,1339.25 L1790.94,1339.25 L1793.65,1339.26 L1796.37,1339.26 L1799.08,1339.26 L1801.79,1339.27 L1804.51,1339.27 L1807.22,1339.28 L1809.93,1339.28 L1812.65,1339.29 L1815.36,1339.29 L1818.07,1339.29 L1820.79,1339.30 L1823.50,1339.30" stroke="#00ff00"/>
<path d="M195.50,469.35 L198.21,473.40 L200.93,477.48 L203.64,481.60 L206.35,485.75 L209.07,489.93 L211.78,494.14 L214.49,498.39 L217.21,502.66 L219.92,506.97 L222.63,511.30 L225.35,515.66 L228.06,520.05 L230.77,524.47 L233.49,528.91 L236.20,533.38 L238.91,537.87 L241.63,542.39 L244.34,546.93 L247.05,551.49 L249.77,556.07 L252.48,560.67 L255.19,565.30 L257.91,569.94 L260.62,574.60 L263.33,579.28 L266.05,583.98 L268.76,588.69 L271.47,593.42 L274.19,598.16 L276.90,602.92 L279.61,607.69 L282.33,612.47 L285.04,617.26 L287.75,622.07 L290.47,626.88 L293.18,631.71 L295.89,636.54 L298.61,641.38 L301.32,646.22 L304.03,651.08 L306.75,655.94 L309.46,660.80 L312.17,665.67 L314.89,670.54 L317.60,675.42 L320.31,680.29 L323.03,685.17 L325.74,690.05 L328.45,694.93 L331.17,699.81 L333.88,704.68 L336.59,709.56 L339.31,714.43 L342.02,719.30 L344.73,724.16 L347.45,729.02 L350.16,733.88 L352.87,738.73 L355.59,743.57 L358.30,748.40 L361.01,753.23 L363.73,758.05 L366.44,762.86 L369.15,767.66 L371.87,772.46 L374.58,777.24 L377.29,782.01 L380.01,786.77 L382.72,791.51 L385.43,796.25 L388.15,800.97 L390.86,805.67 L393.57,810.37 L396.29,815.05 L399.00,819.71 L401.71,824.36 L404.43,828.99 L407.14,833.61 L409.85,838.21 L412.57,842.79 L415.28,847.36 L417.99,851.90 L420.71,856.43 L423.42,860.94 L426.13,865.43 L428.85,869.90 L431.56,874.35 L434.27,878.79 L436.99,883.20 L439.70,887.59 L442.41,891.96 L445.13,896.30 L447.84,900.63 L450.55,904.93 L453.27,909.21 L455.98,913.47 L458.69,917.71 L461.41,921.92 L464.12,926.11 L466.83,930.28 L469.55,934.42 L472.26,938.54 L474.97,942.63 L477.69,946.70 L480.40,950.75 L483.11,954.77 L485.83,958.76 L488.54,962.73 L491.25,966.68 L493.97,970.60 L496.68,974.49 L499.39,978.36 L502.11,982.20 L504.82,986.02 L507.53,989.81 L510.25,993.57 L512.96,997.31 L515.67,1001.02 L518.39,1004.71 L521.10,1008.37 L523.81,1012.00 L526.53,1015.60 L529.24,1019.18 L531.95,1022.73 L534.67,1026.26 L537.38,1029.76 L540.09,1033.23 L542.81,1036.67 L545.52,1040.09 L548.23,1043.48 L550.95,1046.84 L553.66,1050.18 L556.37,1053.49 L559.09,1056.77 L561.80,1060.03 L564.51,1063.25 L567.23,1066.45 L569.94,1069.63 L572.65,1072.78 L575.37,1075.90 L578.08,1078.99 L580.79,1082.06 L583.51,1085.10 L586.22,1088.11 L588.93,1091.10 L591.65,1094.06 L594.36,1097.00 L597.07,1099.91 L599.79,1102.79 L602.50,1105.65 L605.21,1108.48 L607.93,1111.28 L610.64,1114.06 L613.35,1116.81 L616.07,1119.54 L618.78,1122.24 L621.49,1124.92 L624.21,1127.57 L626.92,1130.20 L629.63,1132.80 L632.35,1135.38 L635.06,1137.93 L637.77,1140.46 L640.49,1142.96 L643.20,1145.44 L645.91,1147.89 L648.63,1150.32 L651.34,1152.73 L654.05,1155.11 L656.77,1157.47 L659.48,1159.81 L662.19,1162.12 L664.91,1164.41 L667.62,1166.68 L670.33,1168.92 L673.05,1171.14 L675.76,1173.34 L678.47,1175.52 L681.19,1177.67 L683.90,1179.81 L686.61,1181.92 L689.33,1184.01 L692.04,1186.07 L694.75,1188.12 L697.47,1190.14 L700.18,1192.15 L702.89,1194.13 L705.61,1196.09 L708.32,1198.03 L711.03,1199.95 L713.75,1201.86 L716.46,1203.74 L719.17,1205.60 L721.89,1207.44 L724.60,1209.26 L727.31,1211.06 L730.03,1212.84 L732.74,1214.60 L735.45,1216.34 L738.17,1218.06 L740.88,1219.77 L743.59,1221.45 L746.31,1223.12 L749.02,1224.76 L751.73,1226.39 L754.45,1228.00 L757.16,1229.59 L759.87,1231.16 L762.59,1232.72 L765.30,1234.25 L768.01,1235.77 L770.73,1237.27 L773.44,1238.75 L776.15,1240.21 L778.87,1241.66 L781.58,1243.08 L784.29,1244.49 L787.01,1245.88 L789.72,1247.26 L792.43,1248.61 L795.15,1249.95 L797.86,1251.27 L800.57,1252.58 L803.29,1253.86 L806.00,1255.13 L808.71,1256.38 L811.43,1257.62 L814.14,1258.84 L816.85,1260.04 L819.57,1261.22 L822.28,1262.39 L824.99,1263.55 L827.71,1264.68 L830.42,1265.80 L833.13,1266.90 L835.85,1267.99 L838.56,1269.06 L841.27,1270.12 L843.99,1271.16 L846.70,1272.18 L849.41,1273.19 L852.13,1274.18 L854.84,1275.16 L857.55,1276.12 L860.27,1277.07 L862.98,1278.01 L865.69,1278.93 L868.41,1279.83 L871.12,1280.73 L873.83,1281.60 L876.55,1282.47 L879.26,1283.32 L881.97,1284.15 L884.69,1284.98 L887.40,1285.79 L890.11,1286.59 L892.83,1287.38 L895.54,1288.15 L898.25,1288.91 L900.97,1289.66 L903.68,1290.40 L906.39,1291.13 L909.11,1291.84 L911.82,1292.54 L914.53,1293.24 L917.25,1293.92 L919.96,1294.59 L922.67,1295.26 L925.39,1295.91 L928.10,1296.55 L930.81,1297.18 L933.53,1297.80 L936.24,1298.42 L938.95,1299.02 L941.67,1299.62 L944.38,1300.21 L947.09,1300.78 L949.81,1301.35 L952.52,1301.92 L955.23,1302.47 L957.95,1303.01 L960.66,1303.55 L963.37,1304.08 L966.09,1304.61 L968.80,1305.12 L971.51,1305.63 L974.23,1306.13 L976.94,1306.63 L979.65,1307.11 L982.37,1307.59 L985.08,1308.07 L987.79,1308.54 L990.51,1309.00 L993.22,1309.45 L995.93,1309.90 L998.65,1310.34 L1001.36,1310.78 L1004.07,1311.21 L1006.79,1311.64 L1009.50,1312.06 L1012.21,1312.47 L1014.93,1312.88 L1017.64,1313.29 L1020.35,1313.68 L1023.07,1314.08 L1025.78,1314.46 L1028.49,1314.85 L1031.21,1315.22 L1033.92,1315.59 L1036.63,1315.96 L1039.35,1316.32 L1042.06,1316.68 L1044.77,1317.03 L1047.49,1317.38 L1050.20,1317.72 L1052.91,1318.06 L1055.63,1318.39 L1058.34,1318.72 L1061.05,1319.05 L1063.77,1319.37 L1066.48,1319.68 L1069.19,1319.99 L1071.91,1320.30 L1074.62,1320.60 L1077.33,1320.90 L1080.05,1321.20 L1082.76,1321.49 L1085.47,1321.77 L1088.19,1322.05 L1090.90,1322.33 L1093.61,1322.60 L1096.33,1322.87 L1099.04,1323.14 L1101.75,1323.40 L1104.47,1323.66 L1107.18,1323.91 L1109.89,1324.16 L1112.61,1324.41 L1115.32,1324.65 L1118.03,1324.89 L1120.75,1325.13 L1123.46,1325.36 L1126.17,1325.59 L1128.89,1325.82 L1131.60,1326.04 L1134.31,1326.26 L1137.03,1326.47 L1139.74,1326.68 L1142.45,1326.89 L1145.17,1327.10 L1147.88,1327.30 L1150.59,1327.50 L1153.31,1327.70 L1156.02,1327.89 L1158.73,1328.08 L1161.45,1328.27 L1164.16,1328.45 L1166.87,1328.64 L1169.59,1328.81 L1172.30,1328.99 L1175.01,1329.16 L1177.73,1329.33 L1180.44,1329.50 L1183.15,1329.67 L1185.87,1329.83 L1188.58,1329.99 L1191.29,1330.15 L1194.01,1330.30 L1196.72,1330.46 L1199.43,1330.61 L1202.15,1330.75 L1204.86,1330.90 L1207.57,1331.04 L1210.29,1331.18 L1213.00,1331.32 L1215.71,1331.46 L1218.43,1331.59 L1221.14,1331.73 L1223.85,1331.86 L1226.57,1331.98 L1229.28,1332.11 L1231.99,1332.23 L1234.71,1332.36 L1237.42,1332.48 L1240.13,1332.59 L1242.85,1332.71 L1245.56,1332.82 L1248.27,1332.94 L1250.99,1333.05 L1253.70,1333.16 L1256.41,1333.26 L1259.13,1333.37 L1261.84,1333.47 L1264.55,1333.57 L1267.27,1333.67 L1269.98,1333.77 L1272.69,1333.87 L1275.41,1333.96 L1278.12,1334.06 L1280.83,1334.15 L1283.55,1334.24 L1286.26,1334.33 L1288.97,1334.42 L1291.69,1334.50 L1294.40,1334.59 L1297.11,1334.67 L1299.83,1334.76 L1302.54,1334.84 L1305.25,1334.92 L1307.97,1334.99 L1310.68,1335.07 L1313.39,1335.15 L1316.11,1335.22 L1318.82,1335.29 L1321.53,1335.37 L1324.25,1335.44 L1326.96,1335.51 L1329.67,1335.58 L1332.39,1335.64 L1335.10,1335.71 L1337.81,1335.77 L1340.53,1335.84 L1343.24,1335.90 L1345.95,1335.96 L1348.67,1336.02 L1351.38,1336.08 L1354.09,1336.14 L1356.81,1336.20 L1359.52,1336.26 L1362.23,1336.31 L1364.95,1336.37 L1367.66,1336.42 L1370.37,1336.48 L1373.09,1336.53 L1375.80,1336.58 L1378.51,1336.63 L1381.23,1336.68 L1383.94,1336.73 L1386.65,1336.78 L1389.37,1336.82 L1392.08,1336.87 L1394.79,1336.92 L1397.51,1336.96 L1400.22,1337.01 L1402.93,1337.05 L1405.65,1337.09 L1408.36,1337.13 L1411.07,1337.17 L1413.79,1337.21 L1416.50,1337.25 L1419.21,1337.29 L1421.93,1337.33 L1424.64,1337.37 L1427.35,1337.41 L1430.07,1337.44 L1432.78,1337.48 L1435.49,1337.52 L1438.21,1337.55 L1440.92,1337.58 L1443.63,1337.62 L1446.35,1337.65 L1449.06,1337.68 L1451.77,1337.72 L1454.49,1337.75 L1457.20,1337.78 L1459.91,1337.81 L1462.63,1337.84 L1465.34,1337.87 L1468.05,1337.90 L1470.77,1337.92 L1473.48,1337.95 L1476.19,1337.98 L1478.91,1338.01 L1481.62,1338.03 L1484.33,1338.06 L1487.05,1338.08 L1489.76,1338.11 L1492.47,1338.13 L1495.19,1338.16 L1497.90,1338.18 L1500.61,1338.20 L1503.33,1338.23 L1506.04,1338.25 L1508.75,1338.27 L1511.47,1338.29 L1514.18,1338.31 L1516.89,1338.34 L1519.61,1338.36 L1522.32,1338.38 L1525.03,1338.40 L1527.75,1338.42 L1530.46,1338.44 L1533.17,1338.45 L1535.89,1338.47 L1538.60,1338.49 L1541.31,1338.51 L1544.03,1338.53 L1546.74,1338.54 L1549.45,1338.56 L1552.17,1338.58 L1554.88,1338.59 L1557.59,1338.61 L1560.31,1338.63 L1563.02,1338.64 L1565.73,1338.66 L1568.45,1338.67 L1571.16,1338.69 L1573.87,1338.70 L1576.59,1338.72 L1579.30,1338.73 L1582.01,1338.74 L1584.73,1338.76 L1587.44,1338.77 L1590.15,1338.78 L1592.87,1338.80 L1595.58,1338.81 L1598.29,1338.82 L1601.01,1338.83 L1603.72,1338.85 L1606.43,1338.86 L1609.15,1338.87 L1611.86,1338.88 L1614.57,1338.89 L1617.29,1338.90 L1620.00,1338.91 L1622.71,1338.92 L1625.43,1338.93 L1628.14,1338.94 L1630.85,1338.95 L1633.57,1338.96 L1636.28,1338.97 L1638.99,1338.98 L1641.71,1338.99 L1644.42,1339.00 L1647.13,1339.01 L1649.85,1339.02 L1652.56,1339.03 L1655.27,1339.04 L1657.99,1339.05 L1660.70,1339.05 L1663.41,1339.06 L1666.13,1339.07 L1668.84,1339.08 L1671.55,1339.09 L1674.27,1339.09 L1676.98,1339.10 L1679.69,1339.11 L1682.41,1339.11 L1685.12,1339.12 L1687.83,1339.13 L1690.55,1339.13 L1693.26,1339.14 L1695.97,1339.15 L1698.69,1339.15 L1701.40,1339.16 L1704.11,1339.17 L1706.83,1339.17 L1709.54,1339.18 L1712.25,1339.18 L1714.97,1339.19 L1717.68,1339.20 L1720.39,1339.20 L1723.11,1339.21 L1725.82,1339.21 L1728.53,1339.22 L1731.25,1339.22 L1733.96,1339.23 L1736.67,1339.23 L1739.39,1339.24 L1742.10,1339.24 L1744.81,1339.25 L1747.53,1339.25 L1750.24,1339.26 L1752.95,1339.26 L1755.67,1339.27 L1758.38,1339.27 L1761.09,1339.27 L1763.81,1339.28 L1766.52,1339.28 L1769.23,1339.29 L1771.95,1339.29 L1774.66,1339.29 L1777.37,1339.30 L1780.09,1339.30 L1782.80,1339.30 L1785.51,1339.31 L1788.23,1339.31 L1790.94,1339.32 L1793.65,1339.32 L1796.37,1339.32 L1799.08,1339.33 L1801.79,1339.33 L1804.51,1339.33 L1807.22,1339.33 L1809.93,1339.34 L1812.65,1339.34 L1815.36,1339.34 L1818.07,1339.35 L1820.79,1339.35 L1823.50,1339.35" stroke="#00ff00"/>
<path d="M195.50,71.72 L198.21,77.26 L200.93,82.85 L203.64,88.47 L206.35,94.14 L209.07,99.85 L211.78,105.61 L214.49,111.40 L217.21,117.23 L219.92,123.10 L222.63,129.01 L225.35,134.96 L228.06,140.94 L230.77,146.96 L233.49,153.01 L236.20,159.10 L238.91,165.21 L241.63,171.36 L244.34,177.54 L247.05,183.75 L249.77,189.99 L252.48,196.25 L255.19,202.55 L257.91,208.87 L260.62,215.21 L263.33,221.58 L266.05,227.97 L268.76,234.39 L271.47,240.82 L274.19,247.28 L276.90,253.75 L279.61,260.25 L282.33,266.76 L285.04,273.29 L287.75,279.83 L290.47,286.39 L293.18,292.97 L295.89,299.55 L298.61,306.15 L301.32,312.76 L304.03,319.38 L306.75,326.01 L309.46,332.65 L312.17,339.30 L314.89,345.95 L317.60,352.61 L320.31,359.28 L323.03,365.95 L325.74,372.62 L328.45,379.29 L331.17,385.97 L333.88,392.65 L336.59,399.33 L339.31,406.00 L342.02,412.68 L344.73,419.35 L347.45,426.02 L350.16,432.69 L352.87,439.35 L355.59,446.00 L358.30,452.65 L361.01,459.30 L363.73,465.93 L366.44,472.56 L369.15,479.17 L371.87,485.78 L374.58,492.38 L377.29,498.96 L380.01,505.54 L382.72,512.10 L385.43,518.64 L388.15,525.18 L390.86,531.70 L393.57,538.20 L396.29,544.69 L399.00,551.16 L401.71,557.61 L404.43,564.05 L407.14,570.47 L409.85,576.86 L412.57,583.24 L415.28,589.60 L417.99,595.94 L420.71,602.26 L423.42,608.56 L426.13,614.83 L428.85,621.09 L431.56,627.32 L434.27,633.52 L436.99,639.70 L439.70,645.86 L442.41,652.00 L445.13,658.10 L447.84,664.19 L450.55,670.24 L453.27,676.27 L455.98,682.27 L458.69,688.25 L461.41,694.20 L464.12,700.12 L466.83,706.01 L469.55,711.87 L472.26,717.70 L474.97,723.51 L477.69,729.28 L480.40,735.03 L483.11,740.74 L485.83,746.43 L488.54,752.08 L491.25,757.71 L493.97,763.30 L496.68,768.86 L499.39,774.39 L502.11,779.88 L504.82,785.35 L507.53,790.78 L510.25,796.18 L512.96,801.54 L515.67,806.88 L518.39,812.18 L521.10,817.45 L523.81,822.68 L526.53,827.88 L529.24,833.05 L531.95,838.18 L534.67,843.28 L537.38,848.35 L540.09,853.38 L542.81,858.38 L545.52,863.34 L548.23,868.27 L550.95,873.16 L553.66,878.02 L556.37,882.85 L559.09,887.64 L561.80,892.40 L564.51,897.12 L567.23,901.80 L569.94,906.46 L572.65,911.07 L575.37,915.66 L578.08,920.20 L580.79,924.72 L583.51,929.20 L586.22,933.64 L588.93,938.05 L591.65,942.43 L594.36,946.77 L597.07,951.07 L599.79,955.34 L602.50,959.58 L605.21,963.78 L607.93,967.95 L610.64,972.09 L613.35,976.19 L616.07,980.25 L618.78,984.28 L621.49,988.28 L624.21,992.25 L626.92,996.18 L629.63,1000.08 L632.35,1003.94 L635.06,1007.77 L637.77,1011.57 L640.49,1015.33 L643.20,1019.06 L645.91,1022.76 L648.63,1026.43 L651.34,1030.06 L654.05,1033.67 L656.77,1037.24 L659.48,1040.77 L662.19,1044.28 L664.91,1047.75 L667.62,1051.20 L670.33,1054.61 L673.05,1057.99 L675.76,1061.34 L678.47,1064.66 L681.19,1067.94 L683.90,1071.20 L686.61,1074.43 L689.33,1077.63 L692.04,1080.79 L694.75,1083.93 L697.47,1087.04 L700.18,1090.12 L702.89,1093.17 L705.61,1096.19 L708.32,1099.18 L711.03,1102.14 L713.75,1105.08 L716.46,1107.99 L719.17,1110.87 L721.89,1113.72 L724.60,1116.54 L727.31,1119.34 L730.03,1122.10 L732.74,1124.85 L735.45,1127.56 L738.17,1130.25 L740.88,1132.91 L743.59,1135.54 L746.31,1138.15 L749.02,1140.74 L751.73,1143.29 L754.45,1145.82 L757.16,1148.33 L759.87,1150.81 L762.59,1153.26 L765.30,1155.69 L768.01,1158.10 L770.73,1160.47 L773.44,1162.83 L776.15,1165.16 L778.87,1167.46 L781.58,1169.74 L784.29,1172.00 L787.01,1174.23 L789.72,1176.44 L792.43,1178.63 L795.15,1180.79 L797.86,1182.92 L800.57,1185.04 L803.29,1187.13 L806.00,1189.19 L808.71,1191.24 L811.43,1193.25 L814.14,1195.25 L816.85,1197.22 L819.57,1199.17 L822.28,1201.10 L824.99,1203.01 L827.71,1204.89 L830.42,1206.75 L833.13,1208.59 L835.85,1210.40 L838.56,1212.19 L841.27,1213.96 L843.99,1215.71 L846.70,1217.44 L849.41,1219.14 L852.13,1220.82 L854.84,1222.48 L857.55,1224.12 L860.27,1225.74 L862.98,1227.34 L865.69,1228.91 L868.41,1230.46 L871.12,1232.00 L873.83,1233.51 L876.55,1235.00 L879.26,1236.47 L881.97,1237.92 L884.69,1239.35 L887.40,1240.76 L890.11,1242.15 L892.83,1243.53 L895.54,1244.88 L898.25,1246.21 L900.97,1247.52 L903.68,1248.82 L906.39,1250.09 L909.11,1251.35 L911.82,1252.59 L914.53,1253.81 L917.25,1255.01 L919.96,1256.20 L922.67,1257.36 L925.39,1258.52 L928.10,1259.65 L930.81,1260.77 L933.53,1261.87 L936.24,1262.95 L938.95,1264.02 L941.67,1265.07 L944.38,1266.11 L947.09,1267.13 L949.81,1268.14 L952.52,1269.13 L955.23,1270.11 L957.95,1271.07 L960.66,1272.02 L963.37,1272.96 L966.09,1273.88 L968.80,1274.79 L971.51,1275.69 L974.23,1276.57 L976.94,1277.44 L979.65,1278.30 L982.37,1279.15 L985.08,1279.98 L987.79,1280.81 L990.51,1281.62 L993.22,1282.42 L995.93,1283.21 L998.65,1283.99 L1001.36,1284.75 L1004.07,1285.51 L1006.79,1286.26 L1009.50,1287.00 L1012.21,1287.73 L1014.93,1288.44 L1017.64,1289.15 L1020.35,1289.85 L1023.07,1290.54 L1025.78,1291.22 L1028.49,1291.90 L1031.21,1292.56 L1033.92,1293.22 L1036.63,1293.86 L1039.35,1294.50 L1042.06,1295.13 L1044.77,1295.75 L1047.49,1296.37 L1050.20,1296.98 L1052.91,1297.57 L1055.63,1298.17 L1058.34,1298.75 L1061.05,1299.33 L1063.77,1299.90 L1066.48,1300.46 L1069.19,1301.02 L1071.91,1301.56 L1074.62,1302.11 L1077.33,1302.64 L1080.05,1303.17 L1082.76,1303.69 L1085.47,1304.20 L1088.19,1304.71 L1090.90,1305.21 L1093.61,1305.71 L1096.33,1306.20 L1099.04,1306.68 L1101.75,1307.16 L1104.47,1307.63 L1107.18,1308.10 L1109.89,1308.55 L1112.61,1309.01 L1115.32,1309.45 L1118.03,1309.90 L1120.75,1310.33 L1123.46,1310.76 L1126.17,1311.19 L1128.89,1311.60 L1131.60,1312.02 L1134.31,1312.42 L1137.03,1312.83 L1139.74,1313.22 L1142.45,1313.62 L1145.17,1314.00 L1147.88,1314.38 L1150.59,1314.76 L1153.31,1315.13 L1156.02,1315.50 L1158.73,1315.86 L1161.45,1316.21 L1164.16,1316.56 L1166.87,1316.91 L1169.59,1317.25 L1172.30,1317.59 L1175.01,1317.92 L1177.73,1318.25 L1180.44,1318.57 L1183.15,1318.89 L1185.87,1319.20 L1188.58,1319.51 L1191.29,1319.82 L1194.01,1320.12 L1196.72,1320.41 L1199.43,1320.70 L1202.15,1320.99 L1204.86,1321.28 L1207.57,1321.56 L1210.29,1321.83 L1213.00,1322.10 L1215.71,1322.37 L1218.43,1322.63 L1221.14,1322.89 L1223.85,1323.15 L1226.57,1323.40 L1229.28,1323.65 L1231.99,1323.90 L1234.71,1324.14 L1237.42,1324.38 L1240.13,1324.61 L1242.85,1324.84 L1245.56,1325.07 L1248.27,1325.30 L1250.99,1325.52 L1253.70,1325.73 L1256.41,1325.95 L1259.13,1326.16 L1261.84,1326.37 L1264.55,1326.57 L1267.27,1326.78 L1269.98,1326.97 L1272.69,1327.17 L1275.41,1327.36 L1278.12,1327.55 L1280.83,1327.74 L1283.55,1327.93 L1286.26,1328.11 L1288.97,1328.29 L1291.69,1328.46 L1294.40,1328.64 L1297.11,1328.81 L1299.83,1328.98 L1302.54,1329.14 L1305.25,1329.31 L1307.97,1329.47 L1310.68,1329.63 L1313.39,1329.78 L1316.11,1329.94 L1318.82,1330.09 L1321.53,1330.24 L1324.25,1330.38 L1326.96,1330.53 L1329.67,1330.67 L1332.39,1330.81 L1335.10,1330.95 L1337.81,1331.08 L1340.53,1331.22 L1343.24,1331.35 L1345.95,1331.48 L1348.67,1331.61 L1351.38,1331.73 L1354.09,1331.86 L1356.81,1331.98 L1359.52,1332.10 L1362.23,1332.22 L1364.95,1332.33 L1367.66,1332.45 L1370.37,1332.56 L1373.09,1332.67 L1375.80,1332.78 L1378.51,1332.89 L1381.23,1333.00 L1383.94,1333.10 L1386.65,1333.20 L1389.37,1333.30 L1392.08,1333.40 L1394.79,1333.50 L1397.51,1333.60 L1400.22,1333.69 L1402.93,1333.79 L1405.65,1333.88 L1408.36,1333.97 L1411.07,1334.06 L1413.79,1334.15 L1416.50,1334.23 L1419.21,1334.32 L1421.93,1334.40 L1424.64,1334.49 L1427.35,1334.57 L1430.07,1334.65 L1432.78,1334.73 L1435.49,1334.80 L1438.21,1334.88 L1440.92,1334.95 L1443.63,1335.03 L1446.35,1335.10 L1449.06,1335.17 L1451.77,1335.24 L1454.49,1335.31 L1457.20,1335.38 L1459.91,1335.45 L1462.63,1335.51 L1465.34,1335.58 L1468.05,1335.64 L1470.77,1335.70 L1473.48,1335.77 L1476.19,1335.83 L1478.91,1335.89 L1481.62,1335.95 L1484.33,1336.01 L1487.05,1336.06 L1489.76,1336.12 L1492.47,1336.17 L1495.19,1336.23 L1497.90,1336.28 L1500.61,1336.34 L1503.33,1336.39 L1506.04,1336.44 L1508.75,1336.49 L1511.47,1336.54 L1514.18,1336.59 L1516.89,1336.63 L1519.61,1336.68 L1522.32,1336.73 L1525.03,1336.77 L1527.75,1336.82 L1530.46,1336.86 L1533.17,1336.91 L1535.89,1336.95 L1538.60,1336.99 L1541.31,1337.03 L1544.03,1337.07 L1546.74,1337.11 L1549.45,1337.15 L1552.17,1337.19 L1554.88,1337.23 L1557.59,1337.27 L1560.31,1337.30 L1563.02,1337.34 L1565.73,1337.38 L1568.45,1337.41 L1571.16,1337.45 L1573.87,1337.48 L1576.59,1337.51 L1579.30,1337.55 L1582.01,1337.58 L1584.73,1337.61 L1587.44,1337.64 L1590.15,1337.67 L1592.87,1337.70 L1595.58,1337.73 L1598.29,1337.76 L1601.01,1337.79 L1603.72,1337.82 L1606.43,1337.85 L1609.15,1337.88 L1611.86,1337.90 L1614.57,1337.93 L1617.29,1337.96 L1620.00,1337.98 L1622.71,1338.01 L1625.43,1338.03 L1628.14,1338.06 L1630.85,1338.08 L1633.57,1338.11 L1636.28,1338.13 L1638.99,1338.15 L1641.71,1338.17 L1644.42,1338.20 L1647.13,1338.22 L1649.85,1338.24 L1652.56,1338.26 L1655.27,1338.28 L1657.99,1338.30 L1660.70,1338.32 L1663.41,1338.34 L1666.13,1338.36 L1668.84,1338.38 L1671.55,1338.40 L1674.27,1338.42 L1676.98,1338.44 L1679.69,1338.45 L1682.41,1338.47 L1685.12,1338.49 L1687.83,1338.51 L1690.55,1338.52 L1693.26,1338.54 L1695.97,1338.56 L1698.69,1338.57 L1701.40,1338.59 L1704.11,1338.60 L1706.83,1338.62 L1709.54,1338.63 L1712.25,1338.65 L1714.97,1338.66 L1717.68,1338.68 L1720.39,1338.69 L1723.11,1338.70 L1725.82,1338.72 L1728.53,1338.73 L1731.25,1338.74 L1733.96,1338.76 L1736.67,1338.77 L1739.39,1338.78 L1742.10,1338.79 L1744.81,1338.81 L1747.53,1338.82 L1750.24,1338.83 L1752.95,1338.84 L1755.67,1338.85 L1758.38,1338.86 L1761.09,1338.87 L1763.81,1338.88 L1766.52,1338.89 L1769.23,1338.91 L1771.95,1338.92 L1774.66,1338.93 L1777.37,1338.94 L1780.09,1338.94 L1782.80,1338.95 L1785.51,1338.96 L1788.23,1338.97 L1790.94,1338.98 L1793.65,1338.99 L1796.37,1339.00 L1799.08,1339.01 L1801.79,1339.02 L1804.51,1339.02 L1807.22,1339.03 L1809.93,1339.04 L1812.65,1339.05 L1815.36,1339.06 L1818.07,1339.06 L1820.79,1339.07 L1823.50,1339.08" stroke="#ff0000" stroke-dasharray="37.5 37.5"/>
<path d="M195.50,175.01 L198.21,180.16 L200.93,185.35 L203.64,190.58 L206.35,195.85 L209.07,201.16 L211.78,206.51 L214.49,211.90 L217.21,217.32 L219.92,222.79 L222.63,228.28 L225.35,233.81 L228.06,239.38 L230.77,244.98 L233.49,250.61 L236.20,256.27 L238.91,261.96 L241.63,267.68 L244.34,273.43 L247.05,279.21 L249.77,285.02 L252.48,290.85 L255.19,296.70 L257.91,302.58 L260.62,308.49 L263.33,314.41 L266.05,320.36 L268.76,326.33 L271.47,332.32 L274.19,338.33 L276.90,344.35 L279.61,350.39 L282.33,356.45 L285.04,362.53 L287.75,368.62 L290.47,374.72 L293.18,380.84 L295.89,386.97 L298.61,393.10 L301.32,399.25 L304.03,405.41 L306.75,411.58 L309.46,417.75 L312.17,423.94 L314.89,430.12 L317.60,436.32 L320.31,442.51 L323.03,448.72 L325.74,454.92 L328.45,461.13 L331.17,467.33 L333.88,473.54 L336.59,479.75 L339.31,485.95 L342.02,492.16 L344.73,498.36 L347.45,504.55 L350.16,510.75 L352.87,516.94 L355.59,523.12 L358.30,529.30 L361.01,535.47 L363.73,541.63 L366.44,547.78 L369.15,553.92 L371.87,560.06 L374.58,566.18 L377.29,572.29 L380.01,578.39 L382.72,584.48 L385.43,590.56 L388.15,596.62 L390.86,602.67 L393.57,608.70 L396.29,614.72 L399.00,620.72 L401.71,626.70 L404.43,632.67 L407.14,638.62 L409.85,644.55 L412.57,650.46 L415.28,656.36 L417.99,662.23 L420.71,668.08 L423.42,673.92 L426.13,679.73 L428.85,685.52 L431.56,691.29 L434.27,697.03 L436.99,702.76 L439.70,708.45 L442.41,714.13 L445.13,719.78 L447.84,725.41 L450.55,731.01 L453.27,736.59 L455.98,742.14 L458.69,747.66 L461.41,753.16 L464.12,758.63 L466.83,764.08 L469.55,769.49 L472.26,774.88 L474.97,780.24 L477.69,785.58 L480.40,790.88 L483.11,796.16 L485.83,801.41 L488.54,806.63 L491.25,811.81 L493.97,816.97 L496.68,822.10 L499.39,827.20 L502.11,832.27 L504.82,837.31 L507.53,842.32 L510.25,847.29 L512.96,852.24 L515.67,857.16 L518.39,862.04 L521.10,866.89 L523.81,871.71 L526.53,876.50 L529.24,881.26 L531.95,885.98 L534.67,890.68 L537.38,895.34 L540.09,899.97 L542.81,904.56 L545.52,909.13 L548.23,913.66 L550.95,918.16 L553.66,922.62 L556.37,927.06 L559.09,931.46 L561.80,935.83 L564.51,940.17 L567.23,944.47 L569.94,948.74 L572.65,952.98 L575.37,957.19 L578.08,961.36 L580.79,965.50 L583.51,969.61 L586.22,973.68 L588.93,977.73 L591.65,981.74 L594.36,985.72 L597.07,989.66 L599.79,993.58 L602.50,997.46 L605.21,1001.31 L607.93,1005.12 L610.64,1008.91 L613.35,1012.66 L616.07,1016.38 L618.78,1020.07 L621.49,1023.73 L624.21,1027.36 L626.92,1030.95 L629.63,1034.52 L632.35,1038.05 L635.06,1041.55 L637.77,1045.02 L640.49,1048.46 L643.20,1051.87 L645.91,1055.25 L648.63,1058.60 L651.34,1061.91 L654.05,1065.20 L656.77,1068.46 L659.48,1071.69 L662.19,1074.89 L664.91,1078.05 L667.62,1081.19 L670.33,1084.31 L673.05,1087.39 L675.76,1090.44 L678.47,1093.46 L681.19,1096.46 L683.90,1099.43 L686.61,1102.37 L689.33,1105.28 L692.04,1108.16 L694.75,1111.02 L697.47,1113.85 L700.18,1116.65 L702.89,1119.43 L705.61,1122.17 L708.32,1124.90 L711.03,1127.59 L713.75,1130.26 L716.46,1132.90 L719.17,1135.52 L721.89,1138.11 L724.60,1140.67 L727.31,1143.21 L730.03,1145.73 L732.74,1148.22 L735.45,1150.68 L738.17,1153.12 L740.88,1155.54 L743.59,1157.93 L746.31,1160.29 L749.02,1162.63 L751.73,1164.95 L754.45,1167.25 L757.16,1169.52 L759.87,1171.76 L762.59,1173.99 L765.30,1176.19 L768.01,1178.36 L770.73,1180.52 L773.44,1182.65 L776.15,1184.75 L778.87,1186.84 L781.58,1188.90 L784.29,1190.94 L787.01,1192.96 L789.72,1194.95 L792.43,1196.92 L795.15,1198.87 L797.86,1200.80 L800.57,1202.71 L803.29,1204.59 L806.00,1206.45 L808.71,1208.30 L811.43,1210.11 L814.14,1211.91 L816.85,1213.69 L819.57,1215.44 L822.28,1217.18 L824.99,1218.89 L827.71,1220.58 L830.42,1222.25 L833.13,1223.90 L835.85,1225.53 L838.56,1227.13 L841.27,1228.72 L843.99,1230.29 L846.70,1231.83 L849.41,1233.36 L852.13,1234.87 L854.84,1236.35 L857.55,1237.82 L860.27,1239.26 L862.98,1240.69 L865.69,1242.09 L868.41,1243.48 L871.12,1244.85 L873.83,1246.20 L876.55,1247.53 L879.26,1248.84 L881.97,1250.13 L884.69,1251.40 L887.40,1252.66 L890.11,1253.90 L892.83,1255.12 L895.54,1256.32 L898.25,1257.50 L900.97,1258.67 L903.68,1259.82 L906.39,1260.95 L909.11,1262.07 L911.82,1263.16 L914.53,1264.25 L917.25,1265.31 L919.96,1266.36 L922.67,1267.40 L925.39,1268.42 L928.10,1269.42 L930.81,1270.41 L933.53,1271.39 L936.24,1272.35 L938.95,1273.30 L941.67,1274.23 L944.38,1275.15 L947.09,1276.05 L949.81,1276.94 L952.52,1277.82 L955.23,1278.69 L957.95,1279.54 L960.66,1280.38 L963.37,1281.21 L966.09,1282.03 L968.80,1282.83 L971.51,1283.62 L974.23,1284.41 L976.94,1285.18 L979.65,1285.94 L982.37,1286.69 L985.08,1287.43 L987.79,1288.15 L990.51,1288.87 L993.22,1289.58 L995.93,1290.28 L998.65,1290.97 L1001.36,1291.65 L1004.07,1292.32 L1006.79,1292.99 L1009.50,1293.64 L1012.21,1294.29 L1014.93,1294.92 L1017.64,1295.55 L1020.35,1296.17 L1023.07,1296.78 L1025.78,1297.39 L1028.49,1297.98 L1031.21,1298.57 L1033.92,1299.15 L1036.63,1299.72 L1039.35,1300.29 L1042.06,1300.85 L1044.77,1301.40 L1047.49,1301.95 L1050.20,1302.48 L1052.91,1303.02 L1055.63,1303.54 L1058.34,1304.06 L1061.05,1304.57 L1063.77,1305.07 L1066.48,1305.57 L1069.19,1306.06 L1071.91,1306.55 L1074.62,1307.03 L1077.33,1307.50 L1080.05,1307.97 L1082.76,1308.43 L1085.47,1308.88 L1088.19,1309.33 L1090.90,1309.78 L1093.61,1310.22 L1096.33,1310.65 L1099.04,1311.07 L1101.75,1311.49 L1104.47,1311.91 L1107.18,1312.32 L1109.89,1312.72 L1112.61,1313.12 L1115.32,1313.52 L1118.03,1313.91 L1120.75,1314.29 L1123.46,1314.67 L1126.17,1315.04 L1128.89,1315.41 L1131.60,1315.77 L1134.31,1316.13 L1137.03,1316.49 L1139.74,1316.83 L1142.45,1317.18 L1145.17,1317.52 L1147.88,1317.85 L1150.59,1318.18 L1153.31,1318.51 L1156.02,1318.83 L1158.73,1319.14 L1161.45,1319.46 L1164.16,1319.76 L1166.87,1320.07 L1169.59,1320.36 L1172.30,1320.66 L1175.01,1320.95 L1177.73,1321.24 L1180.44,1321.52 L1183.15,1321.80 L1185.87,1322.07 L1188.58,1322.34 L1191.29,1322.61 L1194.01,1322.87 L1196.72,1323.13 L1199.43,1323.38 L1202.15,1323.63 L1204.86,1323.88 L1207.57,1324.12 L1210.29,1324.36 L1213.00,1324.60 L1215.71,1324.83 L1218.43,1325.06 L1221.14,1325.29 L1223.85,1325.51 L1226.57,1325.73 L1229.28,1325.95 L1231.99,1326.16 L1234.71,1326.37 L1237.42,1326.58 L1240.13,1326.78 L1242.85,1326.98 L1245.56,1327.18 L1248.27,1327.37 L1250.99,1327.56 L1253.70,1327.75 L1256.41,1327.94 L1259.13,1328.12 L1261.84,1328.30 L1264.55,1328.48 L1267.27,1328.66 L1269.98,1328.83 L1272.69,1329.00 L1275.41,1329.16 L1278.12,1329.33 L1280.83,1329.49 L1283.55,1329.65 L1286.26,1329.81 L1288.97,1329.96 L1291.69,1330.11 L1294.40,1330.26 L1297.11,1330.41 L1299.83,1330.56 L1302.54,1330.70 L1305.25,1330.84 L1307.97,1330.98 L1310.68,1331.12 L1313.39,1331.25 L1316.11,1331.38 L1318.82,1331.51 L1321.53,1331.64 L1324.25,1331.77 L1326.96,1331.89 L1329.67,1332.02 L1332.39,1332.14 L1335.10,1332.26 L1337.81,1332.37 L1340.53,1332.49 L1343.24,1332.60 L1345.95,1332.71 L1348.67,1332.82 L1351.38,1332.93 L1354.09,1333.04 L1356.81,1333.14 L1359.52,1333.24 L1362.23,1333.35 L1364.95,1333.45 L1367.66,1333.54 L1370.37,1333.64 L1373.09,1333.74 L1375.80,1333.83 L1378.51,1333.92 L1381.23,1334.01 L1383.94,1334.10 L1386.65,1334.19 L1389.37,1334.28 L1392.08,1334.36 L1394.79,1334.45 L1397.51,1334.53 L1400.22,1334.61 L1402.93,1334.69 L1405.65,1334.77 L1408.36,1334.85 L1411.07,1334.92 L1413.79,1335.00 L1416.50,1335.07 L1419.21,1335.14 L1421.93,1335.22 L1424.64,1335.29 L1427.35,1335.35 L1430.07,1335.42 L1432.78,1335.49 L1435.49,1335.56 L1438.21,1335.62 L1440.92,1335.68 L1443.63,1335.75 L1446.35,1335.81 L1449.06,1335.87 L1451.77,1335.93 L1454.49,1335.99 L1457.20,1336.05 L1459.91,1336.10 L1462.63,1336.16 L1465.34,1336.22 L1468.05,1336.27 L1470.77,1336.32 L1473.48,1336.38 L1476.19,1336.43 L1478.91,1336.48 L1481.62,1336.53 L1484.33,1336.58 L1487.05,1336.63 L1489.76,1336.67 L1492.47,1336.72 L1495.19,1336.77 L1497.90,1336.81 L1500.61,1336.86 L1503.33,1336.90 L1506.04,1336.95 L1508.75,1336.99 L1511.47,1337.03 L1514.18,1337.07 L1516.89,1337.11 L1519.61,1337.15 L1522.32,1337.19 L1525.03,1337.23 L1527.75,1337.27 L1530.46,1337.30 L1533.17,1337.34 L1535.89,1337.38 L1538.60,1337.41 L1541.31,1337.45 L1544.03,1337.48 L1546.74,1337.52 L1549.45,1337.55 L1552.17,1337.58 L1554.88,1337.61 L1557.59,1337.65 L1560.31,1337.68 L1563.02,1337.71 L1565.73,1337.74 L1568.45,1337.77 L1571.16,1337.80 L1573.87,1337.83 L1576.59,1337.85 L1579.30,1337.88 L1582.01,1337.91 L1584.73,1337.94 L1587.44,1337.96 L1590.15,1337.99 L1592.87,1338.01 L1595.58,1338.04 L1598.29,1338.06 L1601.01,1338.09 L1603.72,1338.11 L1606.43,1338.13 L1609.15,1338.16 L1611.86,1338.18 L1614.57,1338.20 L1617.29,1338.23 L1620.00,1338.25 L1622.71,1338.27 L1625.43,1338.29 L1628.14,1338.31 L1630.85,1338.33 L1633.57,1338.35 L1636.28,1338.37 L1638.99,1338.39 L1641.71,1338.41 L1644.42,1338.43 L1647.13,1338.44 L1649.85,1338.46 L1652.56,1338.48 L1655.27,1338.50 L1657.99,1338.51 L1660.70,1338.53 L1663.41,1338.55 L1666.13,1338.56 L1668.84,1338.58 L1671.55,1338.60 L1674.27,1338.61 L1676.98,1338.63 L1679.69,1338.64 L1682.41,1338.66 L1685.12,1338.67 L1687.83,1338.68 L1690.55,1338.70 L1693.26,1338.71 L1695.97,1338.73 L1698.69,1338.74 L1701.40,1338.75 L1704.11,1338.76 L1706.83,1338.78 L1709.54,1338.79 L1712.25,1338.80 L1714.97,1338.81 L1717.68,1338.83 L1720.39,1338.84 L1723.11,1338.85 L1725.82,1338.86 L1728.53,1338.87 L1731.25,1338.88 L1733.96,1338.89 L1736.67,1338.90 L1739.39,1338.91 L1742.10,1338.92 L1744.81,1338.93 L1747.53,1338.94 L1750.24,1338.95 L1752.95,1338.96 L1755.67,1338.97 L1758.38,1338.98 L1761.09,1338.99 L1763.81,1339.00 L1766.52,1339.01 L1769.23,1339.02 L1771.95,1339.02 L1774.66,1339.03 L1777.37,1339.04 L1780.09,1339.05 L1782.80,1339.06 L1785.51,1339.06 L1788.23,1339.07 L1790.94,1339.08 L1793.65,1339.09 L1796.37,1339.09 L1799.08,1339.10 L1801.79,1339.11 L1804.51,1339.11 L1807.22,1339.12 L1809.93,1339.13 L1812.65,1339.13 L1815.36,1339.14 L1818.07,1339.15 L1820.79,1339.15 L1823.50,1339.16" stroke="#ff0000" stroke-dasharray="37.5 37.5"/>
<path d="M195.50,308.49 L198.21,313.08 L200.93,317.70 L203.64,322.36 L206.35,327.06 L209.07,331.79 L211.78,336.55 L214.49,341.35 L217.21,346.19 L219.92,351.05 L222.63,355.95 L225.35,360.88 L228.06,365.84 L230.77,370.83 L233.49,375.85 L236.20,380.89 L238.91,385.96 L241.63,391.06 L244.34,396.19 L247.05,401.34 L249.77,406.51 L252.48,411.71 L255.19,416.92 L257.91,422.17 L260.62,427.43 L263.33,432.71 L266.05,438.01 L268.76,443.33 L271.47,448.67 L274.19,454.02 L276.90,459.39 L279.61,464.78 L282.33,470.18 L285.04,475.59 L287.75,481.01 L290.47,486.45 L293.18,491.90 L295.89,497.36 L298.61,502.83 L301.32,508.31 L304.03,513.80 L306.75,519.30 L309.46,524.80 L312.17,530.31 L314.89,535.82 L317.60,541.34 L320.31,546.86 L323.03,552.38 L325.74,557.91 L328.45,563.44 L331.17,568.96 L333.88,574.49 L336.59,580.02 L339.31,585.55 L342.02,591.07 L344.73,596.60 L347.45,602.12 L350.16,607.63 L352.87,613.14 L355.59,618.65 L358.30,624.15 L361.01,629.64 L363.73,635.12 L366.44,640.60 L369.15,646.07 L371.87,651.53 L374.58,656.98 L377.29,662.42 L380.01,667.85 L382.72,673.27 L385.43,678.68 L388.15,684.07 L390.86,689.45 L393.57,694.82 L396.29,700.17 L399.00,705.51 L401.71,710.83 L404.43,716.14 L407.14,721.43 L409.85,726.71 L412.57,731.97 L415.28,737.21 L417.99,742.43 L420.71,747.64 L423.42,752.82 L426.13,757.99 L428.85,763.14 L431.56,768.26 L434.27,773.37 L436.99,778.46 L439.70,783.52 L442.41,788.56 L445.13,793.59 L447.84,798.59 L450.55,803.56 L453.27,808.52 L455.98,813.45 L458.69,818.35 L461.41,823.24 L464.12,828.10 L466.83,832.93 L469.55,837.74 L472.26,842.53 L474.97,847.29 L477.69,852.02 L480.40,856.73 L483.11,861.42 L485.83,866.07 L488.54,870.71 L491.25,875.31 L493.97,879.89 L496.68,884.44 L499.39,888.96 L502.11,893.46 L504.82,897.93 L507.53,902.37 L510.25,906.78 L512.96,911.17 L515.67,915.53 L518.39,919.86 L521.10,924.16 L523.81,928.43 L526.53,932.68 L529.24,936.89 L531.95,941.08 L534.67,945.24 L537.38,949.37 L540.09,953.47 L542.81,957.54 L545.52,961.59 L548.23,965.60 L550.95,969.58 L553.66,973.54 L556.37,977.47 L559.09,981.36 L561.80,985.23 L564.51,989.07 L567.23,992.88 L569.94,996.66 L572.65,1000.41 L575.37,1004.13 L578.08,1007.83 L580.79,1011.49 L583.51,1015.12 L586.22,1018.73 L588.93,1022.31 L591.65,1025.85 L594.36,1029.37 L597.07,1032.86 L599.79,1036.32 L602.50,1039.75 L605.21,1043.15 L607.93,1046.53 L610.64,1049.87 L613.35,1053.19 L616.07,1056.48 L618.78,1059.74 L621.49,1062.97 L624.21,1066.17 L626.92,1069.35 L629.63,1072.50 L632.35,1075.62 L635.06,1078.71 L637.77,1081.77 L640.49,1084.81 L643.20,1087.82 L645.91,1090.80 L648.63,1093.76 L651.34,1096.68 L654.05,1099.59 L656.77,1102.46 L659.48,1105.31 L662.19,1108.13 L664.91,1110.93 L667.62,1113.70 L670.33,1116.44 L673.05,1119.16 L675.76,1121.85 L678.47,1124.52 L681.19,1127.16 L683.90,1129.77 L686.61,1132.36 L689.33,1134.93 L692.04,1137.47 L694.75,1139.99 L697.47,1142.48 L700.18,1144.95 L702.89,1147.40 L705.61,1149.82 L708.32,1152.21 L711.03,1154.59 L713.75,1156.94 L716.46,1159.27 L719.17,1161.57 L721.89,1163.85 L724.60,1166.11 L727.31,1168.34 L730.03,1170.56 L732.74,1172.75 L735.45,1174.92 L738.17,1177.06 L740.88,1179.19 L743.59,1181.29 L746.31,1183.37 L749.02,1185.43 L751.73,1187.47 L754.45,1189.49 L757.16,1191.48 L759.87,1193.46 L762.59,1195.41 L765.30,1197.35 L768.01,1199.26 L770.73,1201.15 L773.44,1203.02 L776.15,1204.87 L778.87,1206.70 L781.58,1208.51 L784.29,1210.30 L787.01,1212.07 L789.72,1213.82 L792.43,1215.56 L795.15,1217.27 L797.86,1218.96 L800.57,1220.63 L803.29,1222.28 L806.00,1223.91 L808.71,1225.53 L811.43,1227.12 L814.14,1228.70 L816.85,1230.25 L819.57,1231.79 L822.28,1233.31 L824.99,1234.81 L827.71,1236.29 L830.42,1237.75 L833.13,1239.19 L835.85,1240.61 L838.56,1242.02 L841.27,1243.41 L843.99,1244.78 L846.70,1246.13 L849.41,1247.46 L852.13,1248.77 L854.84,1250.07 L857.55,1251.35 L860.27,1252.61 L862.98,1253.86 L865.69,1255.08 L868.41,1256.29 L871.12,1257.49 L873.83,1258.66 L876.55,1259.82 L879.26,1260.96 L881.97,1262.09 L884.69,1263.20 L887.40,1264.29 L890.11,1265.37 L892.83,1266.43 L895.54,1267.48 L898.25,1268.51 L900.97,1269.52 L903.68,1270.52 L906.39,1271.51 L909.11,1272.48 L911.82,1273.44 L914.53,1274.38 L917.25,1275.30 L919.96,1276.22 L922.67,1277.12 L925.39,1278.00 L928.10,1278.88 L930.81,1279.74 L933.53,1280.59 L936.24,1281.42 L938.95,1282.24 L941.67,1283.05 L944.38,1283.85 L947.09,1284.64 L949.81,1285.41 L952.52,1286.18 L955.23,1286.93 L957.95,1287.67 L960.66,1288.40 L963.37,1289.12 L966.09,1289.83 L968.80,1290.53 L971.51,1291.22 L974.23,1291.90 L976.94,1292.57 L979.65,1293.23 L982.37,1293.88 L985.08,1294.52 L987.79,1295.16 L990.51,1295.78 L993.22,1296.40 L995.93,1297.01 L998.65,1297.61 L1001.36,1298.20 L1004.07,1298.78 L1006.79,1299.36 L1009.50,1299.93 L1012.21,1300.49 L1014.93,1301.04 L1017.64,1301.59 L1020.35,1302.13 L1023.07,1302.66 L1025.78,1303.18 L1028.49,1303.70 L1031.21,1304.21 L1033.92,1304.72 L1036.63,1305.22 L1039.35,1305.71 L1042.06,1306.20 L1044.77,1306.67 L1047.49,1307.15 L1050.20,1307.62 L1052.91,1308.08 L1055.63,1308.53 L1058.34,1308.98 L1061.05,1309.43 L1063.77,1309.87 L1066.48,1310.30 L1069.19,1310.73 L1071.91,1311.15 L1074.62,1311.56 L1077.33,1311.97 L1080.05,1312.38 L1082.76,1312.78 L1085.47,1313.18 L1088.19,1313.57 L1090.90,1313.95 L1093.61,1314.33 L1096.33,1314.71 L1099.04,1315.08 L1101.75,1315.44 L1104.47,1315.80 L1107.18,1316.16 L1109.89,1316.51 L1112.61,1316.85 L1115.32,1317.20 L1118.03,1317.53 L1120.75,1317.86 L1123.46,1318.19 L1126.17,1318.52 L1128.89,1318.83 L1131.60,1319.15 L1134.31,1319.46 L1137.03,1319.77 L1139.74,1320.07 L1142.45,1320.36 L1145.17,1320.66 L1147.88,1320.95 L1150.59,1321.23 L1153.31,1321.51 L1156.02,1321.79 L1158.73,1322.06 L1161.45,1322.33 L1164.16,1322.60 L1166.87,1322.86 L1169.59,1323.12 L1172.30,1323.37 L1175.01,1323.62 L1177.73,1323.87 L1180.44,1324.11 L1183.15,1324.35 L1185.87,1324.59 L1188.58,1324.82 L1191.29,1325.05 L1194.01,1325.28 L1196.72,1325.50 L1199.43,1325.72 L1202.15,1325.94 L1204.86,1326.15 L1207.57,1326.36 L1210.29,1326.57 L1213.00,1326.77 L1215.71,1326.97 L1218.43,1327.17 L1221.14,1327.36 L1223.85,1327.56 L1226.57,1327.74 L1229.28,1327.93 L1231.99,1328.11 L1234.71,1328.29 L1237.42,1328.47 L1240.13,1328.65 L1242.85,1328.82 L1245.56,1328.99 L1248.27,1329.16 L1250.99,1329.32 L1253.70,1329.48 L1256.41,1329.64 L1259.13,1329.80 L1261.84,1329.96 L1264.55,1330.11 L1267.27,1330.26 L1269.98,1330.41 L1272.69,1330.55 L1275.41,1330.69 L1278.12,1330.84 L1280.83,1330.98 L1283.55,1331.11 L1286.26,1331.25 L1288.97,1331.38 L1291.69,1331.51 L1294.40,1331.64 L1297.11,1331.77 L1299.83,1331.89 L1302.54,1332.01 L1305.25,1332.13 L1307.97,1332.25 L1310.68,1332.37 L1313.39,1332.49 L1316.11,1332.60 L1318.82,1332.71 L1321.53,1332.82 L1324.25,1332.93 L1326.96,1333.04 L1329.67,1333.14 L1332.39,1333.24 L1335.10,1333.35 L1337.81,1333.45 L1340.53,1333.54 L1343.24,1333.64 L1345.95,1333.74 L1348.67,1333.83 L1351.38,1333.92 L1354.09,1334.01 L1356.81,1334.10 L1359.52,1334.19 L1362.23,1334.28 L1364.95,1334.36 L1367.66,1334.45 L1370.37,1334.53 L1373.09,1334.61 L1375.80,1334.69 L1378.51,1334.77 L1381.23,1334.85 L1383.94,1334.92 L1386.65,1335.00 L1389.37,1335.07 L1392.08,1335.15 L1394.79,1335.22 L1397.51,1335.29 L1400.22,1335.36 L1402.93,1335.43 L1405.65,1335.49 L1408.36,1335.56 L1411.07,1335.62 L1413.79,1335.69 L1416.50,1335.75 L1419.21,1335.81 L1421.93,1335.87 L1424.64,1335.93 L1427.35,1335.99 L1430.07,1336.05 L1432.78,1336.11 L1435.49,1336.16 L1438.21,1336.22 L1440.92,1336.27 L1443.63,1336.33 L1446.35,1336.38 L1449.06,1336.43 L1451.77,1336.48 L1454.49,1336.53 L1457.20,1336.58 L1459.91,1336.63 L1462.63,1336.68 L1465.34,1336.73 L1468.05,1336.77 L1470.77,1336.82 L1473.48,1336.86 L1476.19,1336.91 L1478.91,1336.95 L1481.62,1336.99 L1484.33,1337.03 L1487.05,1337.08 L1489.76,1337.12 L1492.47,1337.16 L1495.19,1337.20 L1497.90,1337.23 L1500.61,1337.27 L1503.33,1337.31 L1506.04,1337.35 L1508.75,1337.38 L1511.47,1337.42 L1514.18,1337.45 L1516.89,1337.49 L1519.61,1337.52 L1522.32,1337.55 L1525.03,1337.59 L1527.75,1337.62 L1530.46,1337.65 L1533.17,1337.68 L1535.89,1337.71 L1538.60,1337.74 L1541.31,1337.77 L1544.03,1337.80 L1546.74,1337.83 L1549.45,1337.86 L1552.17,1337.89 L1554.88,1337.91 L1557.59,1337.94 L1560.31,1337.97 L1563.02,1337.99 L1565.73,1338.02 L1568.45,1338.04 L1571.16,1338.07 L1573.87,1338.09 L1576.59,1338.12 L1579.30,1338.14 L1582.01,1338.16 L1584.73,1338.19 L1587.44,1338.21 L1590.15,1338.23 L1592.87,1338.25 L1595.58,1338.27 L1598.29,1338.29 L1601.01,1338.31 L1603.72,1338.33 L1606.43,1338.35 L1609.15,1338.37 L1611.86,1338.39 L1614.57,1338.41 L1617.29,1338.43 L1620.00,1338.45 L1622.71,1338.47 L1625.43,1338.48 L1628.14,1338.50 L1630.85,1338.52 L1633.57,1338.54 L1636.28,1338.55 L1638.99,1338.57 L1641.71,1338.58 L1644.42,1338.60 L1647.13,1338.62 L1649.85,1338.63 L1652.56,1338.65 L1655.27,1338.66 L1657.99,1338.67 L1660.70,1338.69 L1663.41,1338.70 L1666.13,1338.72 L1668.84,1338.73 L1671.55,1338.74 L1674.27,1338.76 L1676.98,1338.77 L1679.69,1338.78 L1682.41,1338.79 L1685.12,1338.81 L1687.83,1338.82 L1690.55,1338.83 L1693.26,1338.84 L1695.97,1338.85 L1698.69,1338.86 L1701.40,1338.87 L1704.11,1338.89 L1706.83,1338.90 L1709.54,1338.91 L1712.25,1338.92 L1714.97,1338.93 L1717.68,1338.94 L1720.39,1338.95 L1723.11,1338.96 L1725.82,1338.97 L1728.53,1338.97 L1731.25,1338.98 L1733.96,1338.99 L1736.67,1339.00 L1739.39,1339.01 L1742.10,1339.02 L1744.81,1339.03 L1747.53,1339.04 L1750.24,1339.04 L1752.95,1339.05 L1755.67,1339.06 L1758.38,1339.07 L1761.09,1339.07 L1763.81,1339.08 L1766.52,1339.09 L1769.23,1339.10 L1771.95,1339.10 L1774.66,1339.11 L1777.37,1339.12 L1780.09,1339.12 L1782.80,1339.13 L1785.51,1339.14 L1788.23,1339.14 L1790.94,1339.15 L1793.65,1339.16 L1796.37,1339.16 L1799.08,1339.17 L1801.79,1339.17 L1804.51,1339.18 L1807.22,1339.18 L1809.93,1339.19 L1812.65,1339.20 L1815.36,1339.20 L1818.07,1339.21 L1820.79,1339.21 L1823.50,1339.22" stroke="#ff0000" stroke-dasharray="37.5 37.5"/>
<path d="M195.50,487.67 L198.21,491.50 L200.93,495.36 L203.64,499.25 L206.35,503.17 L209.07,507.12 L211.78,511.10 L214.49,515.11 L217.21,519.15 L219.92,523.21 L222.63,527.30 L225.35,531.42 L228.06,535.56 L230.77,539.72 L233.49,543.92 L236.20,548.13 L238.91,552.37 L241.63,556.63 L244.34,560.91 L247.05,565.21 L249.77,569.53 L252.48,573.87 L255.19,578.23 L257.91,582.61 L260.62,587.00 L263.33,591.42 L266.05,595.84 L268.76,600.29 L271.47,604.75 L274.19,609.22 L276.90,613.70 L279.61,618.20 L282.33,622.71 L285.04,627.23 L287.75,631.77 L290.47,636.31 L293.18,640.86 L295.89,645.42 L298.61,649.99 L301.32,654.57 L304.03,659.15 L306.75,663.74 L309.46,668.33 L312.17,672.93 L314.89,677.53 L317.60,682.14 L320.31,686.75 L323.03,691.36 L325.74,695.97 L328.45,700.59 L331.17,705.20 L333.88,709.81 L336.59,714.43 L339.31,719.04 L342.02,723.65 L344.73,728.26 L347.45,732.86 L350.16,737.46 L352.87,742.06 L355.59,746.65 L358.30,751.24 L361.01,755.82 L363.73,760.39 L366.44,764.96 L369.15,769.52 L371.87,774.07 L374.58,778.62 L377.29,783.15 L380.01,787.67 L382.72,792.19 L385.43,796.69 L388.15,801.19 L390.86,805.67 L393.57,810.14 L396.29,814.60 L399.00,819.05 L401.71,823.48 L404.43,827.90 L407.14,832.31 L409.85,836.70 L412.57,841.07 L415.28,845.44 L417.99,849.78 L420.71,854.11 L423.42,858.43 L426.13,862.73 L428.85,867.01 L431.56,871.27 L434.27,875.52 L436.99,879.75 L439.70,883.96 L442.41,888.15 L445.13,892.33 L447.84,896.48 L450.55,900.62 L453.27,904.73 L455.98,908.83 L458.69,912.90 L461.41,916.96 L464.12,921.00 L466.83,925.01 L469.55,929.00 L472.26,932.98 L474.97,936.93 L477.69,940.86 L480.40,944.76 L483.11,948.65 L485.83,952.51 L488.54,956.35 L491.25,960.17 L493.97,963.97 L496.68,967.74 L499.39,971.49 L502.11,975.22 L504.82,978.92 L507.53,982.60 L510.25,986.26 L512.96,989.89 L515.67,993.50 L518.39,997.08 L521.10,1000.65 L523.81,1004.18 L526.53,1007.70 L529.24,1011.18 L531.95,1014.65 L534.67,1018.09 L537.38,1021.51 L540.09,1024.90 L542.81,1028.26 L545.52,1031.61 L548.23,1034.93 L550.95,1038.22 L553.66,1041.49 L556.37,1044.73 L559.09,1047.95 L561.80,1051.15 L564.51,1054.32 L567.23,1057.46 L569.94,1060.58 L572.65,1063.68 L575.37,1066.75 L578.08,1069.80 L580.79,1072.82 L583.51,1075.82 L586.22,1078.79 L588.93,1081.74 L591.65,1084.67 L594.36,1087.57 L597.07,1090.44 L599.79,1093.29 L602.50,1096.12 L605.21,1098.92 L607.93,1101.70 L610.64,1104.46 L613.35,1107.19 L616.07,1109.90 L618.78,1112.58 L621.49,1115.24 L624.21,1117.88 L626.92,1120.49 L629.63,1123.08 L632.35,1125.64 L635.06,1128.19 L637.77,1130.71 L640.49,1133.20 L643.20,1135.68 L645.91,1138.13 L648.63,1140.56 L651.34,1142.96 L654.05,1145.35 L656.77,1147.71 L659.48,1150.05 L662.19,1152.36 L664.91,1154.66 L667.62,1156.93 L670.33,1159.18 L673.05,1161.41 L675.76,1163.62 L678.47,1165.81 L681.19,1167.98 L683.90,1170.12 L686.61,1172.25 L689.33,1174.35 L692.04,1176.44 L694.75,1178.50 L697.47,1180.54 L700.18,1182.56 L702.89,1184.57 L705.61,1186.55 L708.32,1188.51 L711.03,1190.46 L713.75,1192.38 L716.46,1194.29 L719.17,1196.17 L721.89,1198.04 L724.60,1199.89 L727.31,1201.71 L730.03,1203.52 L732.74,1205.32 L735.45,1207.09 L738.17,1208.84 L740.88,1210.58 L743.59,1212.30 L746.31,1214.00 L749.02,1215.68 L751.73,1217.34 L754.45,1218.99 L757.16,1220.62 L759.87,1222.23 L762.59,1223.83 L765.30,1225.40 L768.01,1226.96 L770.73,1228.50 L773.44,1230.03 L776.15,1231.54 L778.87,1233.03 L781.58,1234.50 L784.29,1235.96 L787.01,1237.40 L789.72,1238.83 L792.43,1240.23 L795.15,1241.63 L797.86,1243.00 L800.57,1244.36 L803.29,1245.70 L806.00,1247.03 L808.71,1248.34 L811.43,1249.63 L814.14,1250.91 L816.85,1252.17 L819.57,1253.41 L822.28,1254.64 L824.99,1255.86 L827.71,1257.06 L830.42,1258.24 L833.13,1259.41 L835.85,1260.56 L838.56,1261.70 L841.27,1262.82 L843.99,1263.92 L846.70,1265.01 L849.41,1266.09 L852.13,1267.15 L854.84,1268.20 L857.55,1269.23 L860.27,1270.25 L862.98,1271.25 L865.69,1272.24 L868.41,1273.21 L871.12,1274.17 L873.83,1275.12 L876.55,1276.05 L879.26,1276.97 L881.97,1277.87 L884.69,1278.77 L887.40,1279.64 L890.11,1280.51 L892.83,1281.36 L895.54,1282.20 L898.25,1283.03 L900.97,1283.84 L903.68,1284.64 L906.39,1285.43 L909.11,1286.21 L911.82,1286.98 L914.53,1287.73 L917.25,1288.48 L919.96,1289.21 L922.67,1289.93 L925.39,1290.64 L928.10,1291.34 L930.81,1292.03 L933.53,1292.71 L936.24,1293.37 L938.95,1294.03 L941.67,1294.68 L944.38,1295.32 L947.09,1295.95 L949.81,1296.57 L952.52,1297.18 L955.23,1297.78 L957.95,1298.38 L960.66,1298.96 L963.37,1299.54 L966.09,1300.11 L968.80,1300.67 L971.51,1301.22 L974.23,1301.76 L976.94,1302.30 L979.65,1302.83 L982.37,1303.35 L985.08,1303.87 L987.79,1304.37 L990.51,1304.88 L993.22,1305.37 L995.93,1305.86 L998.65,1306.34 L1001.36,1306.81 L1004.07,1307.28 L1006.79,1307.74 L1009.50,1308.20 L1012.21,1308.65 L1014.93,1309.09 L1017.64,1309.53 L1020.35,1309.96 L1023.07,1310.39 L1025.78,1310.81 L1028.49,1311.22 L1031.21,1311.63 L1033.92,1312.04 L1036.63,1312.44 L1039.35,1312.83 L1042.06,1313.22 L1044.77,1313.61 L1047.49,1313.99 L1050.20,1314.36 L1052.91,1314.73 L1055.63,1315.10 L1058.34,1315.46 L1061.05,1315.81 L1063.77,1316.16 L1066.48,1316.51 L1069.19,1316.85 L1071.91,1317.19 L1074.62,1317.52 L1077.33,1317.85 L1080.05,1318.17 L1082.76,1318.49 L1085.47,1318.81 L1088.19,1319.12 L1090.90,1319.43 L1093.61,1319.73 L1096.33,1320.03 L1099.04,1320.33 L1101.75,1320.62 L1104.47,1320.90 L1107.18,1321.19 L1109.89,1321.47 L1112.61,1321.74 L1115.32,1322.02 L1118.03,1322.28 L1120.75,1322.55 L1123.46,1322.81 L1126.17,1323.07 L1128.89,1323.32 L1131.60,1323.57 L1134.31,1323.82 L1137.03,1324.06 L1139.74,1324.30 L1142.45,1324.53 L1145.17,1324.77 L1147.88,1325.00 L1150.59,1325.22 L1153.31,1325.45 L1156.02,1325.67 L1158.73,1325.88 L1161.45,1326.10 L1164.16,1326.31 L1166.87,1326.51 L1169.59,1326.72 L1172.30,1326.92 L1175.01,1327.12 L1177.73,1327.31 L1180.44,1327.50 L1183.15,1327.69 L1185.87,1327.88 L1188.58,1328.06 L1191.29,1328.25 L1194.01,1328.42 L1196.72,1328.60 L1199.43,1328.77 L1202.15,1328.94 L1204.86,1329.11 L1207.57,1329.28 L1210.29,1329.44 L1213.00,1329.60 L1215.71,1329.76 L1218.43,1329.92 L1221.14,1330.07 L1223.85,1330.22 L1226.57,1330.37 L1229.28,1330.51 L1231.99,1330.66 L1234.71,1330.80 L1237.42,1330.94 L1240.13,1331.08 L1242.85,1331.21 L1245.56,1331.35 L1248.27,1331.48 L1250.99,1331.61 L1253.70,1331.74 L1256.41,1331.86 L1259.13,1331.98 L1261.84,1332.11 L1264.55,1332.23 L1267.27,1332.34 L1269.98,1332.46 L1272.69,1332.57 L1275.41,1332.69 L1278.12,1332.80 L1280.83,1332.91 L1283.55,1333.01 L1286.26,1333.12 L1288.97,1333.22 L1291.69,1333.32 L1294.40,1333.43 L1297.11,1333.52 L1299.83,1333.62 L1302.54,1333.72 L1305.25,1333.81 L1307.97,1333.91 L1310.68,1334.00 L1313.39,1334.09 L1316.11,1334.18 L1318.82,1334.26 L1321.53,1334.35 L1324.25,1334.43 L1326.96,1334.52 L1329.67,1334.60 L1332.39,1334.68 L1335.10,1334.76 L1337.81,1334.84 L1340.53,1334.91 L1343.24,1334.99 L1345.95,1335.06 L1348.67,1335.14 L1351.38,1335.21 L1354.09,1335.28 L1356.81,1335.35 L1359.52,1335.42 L1362.23,1335.49 L1364.95,1335.55 L1367.66,1335.62 L1370.37,1335.68 L1373.09,1335.75 L1375.80,1335.81 L1378.51,1335.87 L1381.23,1335.93 L1383.94,1335.99 L1386.65,1336.05 L1389.37,1336.10 L1392.08,1336.16 L1394.79,1336.22 L1397.51,1336.27 L1400.22,1336.32 L1402.93,1336.38 L1405.65,1336.43 L1408.36,1336.48 L1411.07,1336.53 L1413.79,1336.58 L1416.50,1336.63 L1419.21,1336.68 L1421.93,1336.73 L1424.64,1336.77 L1427.35,1336.82 L1430.07,1336.86 L1432.78,1336.91 L1435.49,1336.95 L1438.21,1336.99 L1440.92,1337.04 L1443.63,1337.08 L1446.35,1337.12 L1449.06,1337.16 L1451.77,1337.20 L1454.49,1337.24 L1457.20,1337.27 L1459.91,1337.31 L1462.63,1337.35 L1465.34,1337.38 L1468.05,1337.42 L1470.77,1337.46 L1473.48,1337.49 L1476.19,1337.52 L1478.91,1337.56 L1481.62,1337.59 L1484.33,1337.62 L1487.05,1337.65 L1489.76,1337.69 L1492.47,1337.72 L1495.19,1337.75 L1497.90,1337.78 L1500.61,1337.81 L1503.33,1337.83 L1506.04,1337.86 L1508.75,1337.89 L1511.47,1337.92 L1514.18,1337.94 L1516.89,1337.97 L1519.61,1338.00 L1522.32,1338.02 L1525.03,1338.05 L1527.75,1338.07 L1530.46,1338.10 L1533.17,1338.12 L1535.89,1338.14 L1538.60,1338.17 L1541.31,1338.19 L1544.03,1338.21 L1546.74,1338.23 L1549.45,1338.26 L1552.17,1338.28 L1554.88,1338.30 L1557.59,1338.32 L1560.31,1338.34 L1563.02,1338.36 L1565.73,1338.38 L1568.45,1338.40 L1571.16,1338.42 L1573.87,1338.44 L1576.59,1338.45 L1579.30,1338.47 L1582.01,1338.49 L1584.73,1338.51 L1587.44,1338.52 L1590.15,1338.54 L1592.87,1338.56 L1595.58,1338.57 L1598.29,1338.59 L1601.01,1338.61 L1603.72,1338.62 L1606.43,1338.64 L1609.15,1338.65 L1611.86,1338.67 L1614.57,1338.68 L1617.29,1338.69 L1620.00,1338.71 L1622.71,1338.72 L1625.43,1338.74 L1628.14,1338.75 L1630.85,1338.76 L1633.57,1338.77 L1636.28,1338.79 L1638.99,1338.80 L1641.71,1338.81 L1644.42,1338.82 L1647.13,1338.83 L1649.85,1338.85 L1652.56,1338.86 L1655.27,1338.87 L1657.99,1338.88 L1660.70,1338.89 L1663.41,1338.90 L1666.13,1338.91 L1668.84,1338.92 L1671.55,1338.93 L1674.27,1338.94 L1676.98,1338.95 L1679.69,1338.96 L1682.41,1338.97 L1685.12,1338.98 L1687.83,1338.99 L1690.55,1339.00 L1693.26,1339.01 L1695.97,1339.02 L1698.69,1339.02 L1701.40,1339.03 L1704.11,1339.04 L1706.83,1339.05 L1709.54,1339.06 L1712.25,1339.06 L1714.97,1339.07 L1717.68,1339.08 L1720.39,1339.09 L1723.11,1339.09 L1725.82,1339.10 L1728.53,1339.11 L1731.25,1339.11 L1733.96,1339.12 L1736.67,1339.13 L1739.39,1339.13 L1742.10,1339.14 L1744.81,1339.15 L1747.53,1339.15 L1750.24,1339.16 L1752.95,1339.17 L1755.67,1339.17 L1758.38,1339.18 L1761.09,1339.18 L1763.81,1339.19 L1766.52,1339.19 L1769.23,1339.20 L1771.95,1339.20 L1774.66,1339.21 L1777.37,1339.21 L1780.09,1339.22 L1782.80,1339.22 L1785.51,1339.23 L1788.23,1339.23 L1790.94,1339.24 L1793.65,1339.24 L1796.37,1339.25 L1799.08,1339.25 L1801.79,1339.26 L1804.51,1339.26 L1807.22,1339.27 L1809.93,1339.27 L1812.65,1339.27 L1815.36,1339.28 L1818.07,1339.28 L1820.79,1339.29 L1823.50,1339.29" stroke="#ff0000" stroke-dasharray="37.5 37.5"/>
</g>
<text class="tk" x="194.3" y="1418.4" text-anchor="middle">0</text>
<text class="tk" x="465.6" y="1418.4" text-anchor="middle">0.5</text>
<text class="tk" x="737.0" y="1418.4" text-anchor="middle">1</text>
<text class="tk" x="1008.3" y="1418.4" text-anchor="middle">1.5</text>
<text class="tk" x="1279.6" y="1418.4" text-anchor="middle">2</text>
<text class="tk" x="1551.0" y="1418.4" text-anchor="middle">2.5</text>
<text class="tk" x="1822.3" y="1418.4" text-anchor="middle">3</text>
<text class="tk" x="173" y="1361.5" text-anchor="end">0</text>
<text class="tk" x="173" y="1160.2" text-anchor="end">0.1</text>
<text class="tk" x="173" y="958.8" text-anchor="end">0.2</text>
<text class="tk" x="173" y="757.5" text-anchor="end">0.3</text>
<text class="tk" x="173" y="556.2" text-anchor="end">0.4</text>
<text class="tk" x="173" y="354.9" text-anchor="end">0.5</text>
<text class="tk" x="173" y="153.5" text-anchor="end">0.6</text>
<text class="lb" x="1010" y="1498" text-anchor="middle" font-style="italic">η</text>
<text class="lb" transform="translate(70,697) rotate(-90)" text-anchor="middle"><tspan font-style="italic">θ</tspan>(<tspan font-style="italic">η</tspan>)</text>
<rect x="1086" y="296" width="89" height="11" fill="#62d116"/>
<rect x="1097" y="404" width="17" height="8" fill="#ff0000"/>
<rect x="1121" y="404" width="17" height="8" fill="#ff0000"/>
<rect x="1144" y="404" width="17" height="8" fill="#ff0000"/>
<rect x="1167" y="404" width="17" height="8" fill="#ff0000"/>
<text class="lg" x="1207" y="309">TiO<tspan font-size="48px" dy="30" dx="-0.8">2</tspan><tspan dy="-30" style="letter-spacing:-0.35px">/Water</tspan></text>
<text class="lg" x="1199" y="422"><tspan style="letter-spacing:-1.3px">Cu+TiO</tspan><tspan font-size="48px" dy="30" dx="-0.5">2</tspan><tspan dy="-30" style="letter-spacing:-0.4px">/Water</tspan></text>
<rect x="808.5" y="845.5" width="563" height="113" fill="#fff" stroke="#000" stroke-width="11"/>
<text class="lg" y="916.6"><tspan x="834">Bi</tspan> <tspan x="903.3">=</tspan> <tspan x="954">0.5,</tspan> <tspan x="1059.1">0.7,</tspan> <tspan x="1164.3">0.9,</tspan> <tspan x="1270">1.1</tspan></text>
<g shape-rendering="crispEdges">
<line x1="471" y1="1121.9" x2="690" y2="891.8" stroke="#000" stroke-width="11.2"/>
<polygon points="711.8,868.6 651.8,896.6 652.8,900 683,900 684,930.6 686.5,931.2 713,870.5" fill="#000"/>
</g>
</svg></body></html>
